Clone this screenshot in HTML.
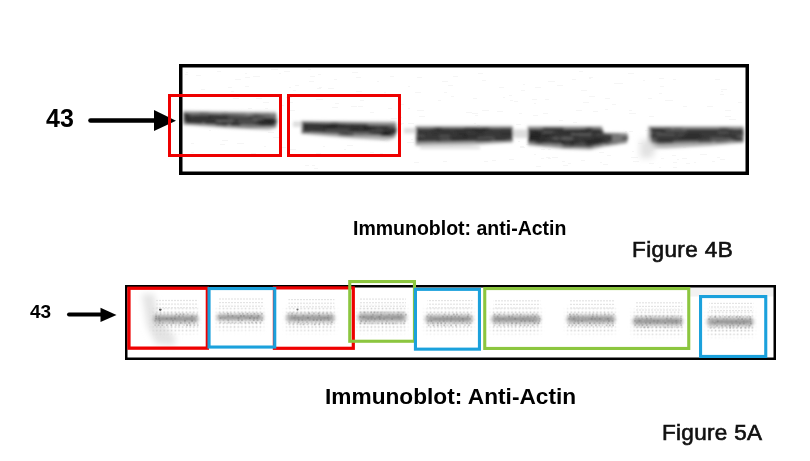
<!DOCTYPE html>
<html><head><meta charset="utf-8">
<style>
html,body{margin:0;padding:0;background:#fff;width:810px;height:461px;overflow:hidden;}
body{position:relative;font-family:"Liberation Sans",sans-serif;}
svg{position:absolute;left:0;top:0;}
.t{position:absolute;white-space:nowrap;line-height:1;color:#000;will-change:transform;}
.fg{-webkit-text-stroke:0.65px #111;}
</style></head><body>
<svg width="810" height="461" viewBox="0 0 810 461">
<defs>
<filter id="bl" x="-10%" y="-50%" width="120%" height="200%"><feGaussianBlur stdDeviation="1.5"/></filter>
<filter id="bt" x="-10%" y="-50%" width="120%" height="200%"><feGaussianBlur stdDeviation="0.6"/></filter>
<filter id="bs" x="-50%" y="-50%" width="200%" height="200%"><feGaussianBlur stdDeviation="3"/></filter>
<filter id="bb" x="-20%" y="-100%" width="140%" height="300%"><feGaussianBlur stdDeviation="1.5"/></filter>
<filter id="bd" x="-10%" y="-50%" width="120%" height="200%"><feGaussianBlur stdDeviation="0.7"/></filter>
<filter id="bm" x="-20%" y="-100%" width="140%" height="300%"><feGaussianBlur stdDeviation="2.5"/></filter>
<pattern id="dash" width="3" height="4" patternUnits="userSpaceOnUse"><rect x="0" y="0" width="2" height="4" fill="#e4e4e4"/></pattern>
<pattern id="dots" width="3.7" height="3.7" patternUnits="userSpaceOnUse"><rect x="0.6" y="0.6" width="1.6" height="1.6" fill="#c8c8c8"/></pattern>
<mask id="dm" maskUnits="userSpaceOnUse" x="0" y="0" width="810" height="461"><g filter="url(#bm)" fill="#fff">
<rect x="153.1" y="308.3" width="45" height="24.2"/>
<rect x="217" y="307.8" width="46" height="22.2"/>
<rect x="286.4" y="307.5" width="48" height="24"/>
<rect x="358" y="306.5" width="48" height="25"/>
<rect x="425.5" y="308.5" width="47" height="24"/>
<rect x="491.7" y="308.5" width="48.6" height="24.4"/>
<rect x="567" y="308.5" width="48" height="24.4"/>
<rect x="633" y="310.5" width="49.4" height="24.4"/>
<rect x="707.3" y="311" width="46" height="24.6"/>
</g></mask>
</defs>
<g fill="#eeeeee" opacity="0.55"><rect x="316" y="123" width="4" height="1"/><rect x="520" y="131" width="2" height="1"/><rect x="191" y="152" width="3" height="1"/><rect x="314" y="168" width="4" height="1"/><rect x="649" y="116" width="5" height="1"/><rect x="268" y="132" width="6" height="1"/><rect x="475" y="142" width="5" height="1"/><rect x="220" y="144" width="5" height="1"/><rect x="352" y="72" width="6" height="1"/><rect x="447" y="140" width="6" height="1"/><rect x="581" y="160" width="4" height="1"/><rect x="629" y="113" width="7" height="1"/><rect x="673" y="79" width="3" height="1"/><rect x="305" y="165" width="4" height="1"/><rect x="532" y="99" width="5" height="1"/><rect x="399" y="104" width="5" height="1"/><rect x="509" y="159" width="5" height="1"/><rect x="700" y="154" width="7" height="1"/><rect x="557" y="85" width="6" height="1"/><rect x="720" y="159" width="5" height="1"/><rect x="581" y="90" width="6" height="1"/><rect x="503" y="97" width="2" height="1"/><rect x="659" y="167" width="2" height="1"/><rect x="629" y="110" width="3" height="1"/><rect x="347" y="145" width="6" height="1"/><rect x="209" y="130" width="2" height="1"/><rect x="583" y="102" width="6" height="1"/><rect x="729" y="119" width="7" height="1"/><rect x="356" y="77" width="5" height="1"/><rect x="201" y="89" width="4" height="1"/><rect x="523" y="84" width="2" height="1"/><rect x="666" y="100" width="7" height="1"/><rect x="683" y="106" width="4" height="1"/><rect x="473" y="133" width="5" height="1"/><rect x="495" y="130" width="7" height="1"/><rect x="466" y="112" width="6" height="1"/><rect x="316" y="99" width="7" height="1"/><rect x="474" y="123" width="2" height="1"/><rect x="415" y="126" width="2" height="1"/><rect x="526" y="132" width="2" height="1"/><rect x="533" y="115" width="5" height="1"/><rect x="380" y="139" width="6" height="1"/><rect x="196" y="75" width="5" height="1"/><rect x="720" y="94" width="4" height="1"/><rect x="514" y="101" width="4" height="1"/><rect x="358" y="106" width="5" height="1"/><rect x="351" y="106" width="6" height="1"/><rect x="199" y="125" width="6" height="1"/><rect x="356" y="91" width="6" height="1"/><rect x="317" y="88" width="4" height="1"/><rect x="572" y="79" width="4" height="1"/><rect x="370" y="152" width="4" height="1"/><rect x="660" y="86" width="4" height="1"/><rect x="546" y="157" width="4" height="1"/><rect x="309" y="81" width="5" height="1"/><rect x="290" y="149" width="6" height="1"/><rect x="286" y="97" width="6" height="1"/><rect x="541" y="149" width="4" height="1"/><rect x="256" y="98" width="6" height="1"/><rect x="335" y="103" width="4" height="1"/><rect x="417" y="110" width="7" height="1"/><rect x="271" y="69" width="7" height="1"/><rect x="673" y="167" width="4" height="1"/><rect x="712" y="161" width="3" height="1"/><rect x="599" y="152" width="5" height="1"/><rect x="473" y="98" width="4" height="1"/><rect x="310" y="76" width="5" height="1"/><rect x="344" y="149" width="2" height="1"/><rect x="686" y="138" width="7" height="1"/><rect x="682" y="158" width="5" height="1"/><rect x="191" y="143" width="3" height="1"/><rect x="351" y="135" width="5" height="1"/><rect x="414" y="162" width="5" height="1"/><rect x="374" y="94" width="6" height="1"/><rect x="449" y="146" width="4" height="1"/><rect x="294" y="122" width="6" height="1"/><rect x="279" y="147" width="7" height="1"/><rect x="632" y="151" width="2" height="1"/><rect x="534" y="154" width="2" height="1"/><rect x="335" y="96" width="5" height="1"/><rect x="419" y="116" width="6" height="1"/><rect x="185" y="74" width="3" height="1"/><rect x="253" y="76" width="7" height="1"/><rect x="659" y="78" width="5" height="1"/><rect x="360" y="100" width="4" height="1"/><rect x="544" y="127" width="4" height="1"/><rect x="290" y="102" width="3" height="1"/><rect x="493" y="140" width="4" height="1"/><rect x="228" y="87" width="4" height="1"/><rect x="520" y="146" width="4" height="1"/><rect x="629" y="131" width="4" height="1"/><rect x="391" y="118" width="6" height="1"/><rect x="418" y="138" width="4" height="1"/><rect x="320" y="122" width="5" height="1"/><rect x="224" y="111" width="4" height="1"/><rect x="673" y="162" width="4" height="1"/><rect x="683" y="147" width="3" height="1"/><rect x="442" y="81" width="6" height="1"/><rect x="552" y="157" width="6" height="1"/><rect x="555" y="142" width="5" height="1"/><rect x="241" y="127" width="2" height="1"/><rect x="264" y="146" width="2" height="1"/><rect x="235" y="79" width="6" height="1"/><rect x="284" y="71" width="6" height="1"/><rect x="251" y="153" width="5" height="1"/><rect x="649" y="163" width="5" height="1"/><rect x="628" y="73" width="6" height="1"/><rect x="468" y="140" width="3" height="1"/><rect x="600" y="162" width="2" height="1"/><rect x="364" y="125" width="6" height="1"/><rect x="319" y="87" width="3" height="1"/><rect x="526" y="144" width="4" height="1"/><rect x="388" y="108" width="4" height="1"/><rect x="417" y="77" width="5" height="1"/><rect x="725" y="110" width="6" height="1"/><rect x="273" y="137" width="6" height="1"/><rect x="559" y="120" width="4" height="1"/><rect x="541" y="158" width="3" height="1"/><rect x="237" y="143" width="7" height="1"/><rect x="472" y="113" width="6" height="1"/><rect x="287" y="95" width="3" height="1"/><rect x="510" y="100" width="3" height="1"/><rect x="568" y="163" width="3" height="1"/><rect x="576" y="110" width="6" height="1"/><rect x="509" y="95" width="3" height="1"/><rect x="197" y="116" width="4" height="1"/><rect x="280" y="105" width="4" height="1"/><rect x="614" y="83" width="7" height="1"/><rect x="451" y="128" width="4" height="1"/><rect x="648" y="150" width="5" height="1"/><rect x="452" y="140" width="6" height="1"/><rect x="407" y="142" width="7" height="1"/><rect x="444" y="92" width="3" height="1"/><rect x="583" y="136" width="7" height="1"/><rect x="659" y="93" width="3" height="1"/><rect x="328" y="88" width="6" height="1"/><rect x="661" y="158" width="3" height="1"/><rect x="665" y="100" width="4" height="1"/><rect x="589" y="78" width="2" height="1"/><rect x="648" y="98" width="4" height="1"/><rect x="507" y="136" width="2" height="1"/><rect x="370" y="112" width="4" height="1"/><rect x="301" y="127" width="7" height="1"/><rect x="401" y="123" width="3" height="1"/><rect x="337" y="135" width="3" height="1"/><rect x="677" y="159" width="2" height="1"/><rect x="707" y="106" width="6" height="1"/><rect x="605" y="98" width="5" height="1"/><rect x="548" y="149" width="3" height="1"/><rect x="603" y="164" width="5" height="1"/><rect x="482" y="80" width="4" height="1"/><rect x="380" y="140" width="5" height="1"/><rect x="499" y="87" width="5" height="1"/><rect x="535" y="87" width="6" height="1"/><rect x="548" y="81" width="7" height="1"/><rect x="263" y="102" width="6" height="1"/><rect x="516" y="124" width="5" height="1"/><rect x="438" y="100" width="3" height="1"/><rect x="222" y="140" width="6" height="1"/><rect x="486" y="142" width="4" height="1"/><rect x="332" y="107" width="6" height="1"/><rect x="207" y="119" width="3" height="1"/><rect x="612" y="104" width="4" height="1"/><rect x="408" y="123" width="6" height="1"/><rect x="380" y="153" width="3" height="1"/><rect x="334" y="79" width="3" height="1"/><rect x="617" y="141" width="3" height="1"/><rect x="289" y="110" width="6" height="1"/><rect x="638" y="143" width="5" height="1"/><rect x="265" y="108" width="3" height="1"/><rect x="477" y="125" width="3" height="1"/><rect x="323" y="146" width="2" height="1"/><rect x="631" y="157" width="7" height="1"/><rect x="397" y="124" width="5" height="1"/><rect x="536" y="166" width="5" height="1"/><rect x="350" y="154" width="4" height="1"/><rect x="518" y="141" width="2" height="1"/><rect x="612" y="135" width="4" height="1"/><rect x="475" y="115" width="3" height="1"/><rect x="478" y="73" width="5" height="1"/><rect x="543" y="113" width="5" height="1"/><rect x="717" y="157" width="3" height="1"/><rect x="625" y="131" width="2" height="1"/><rect x="384" y="92" width="2" height="1"/><rect x="484" y="161" width="4" height="1"/><rect x="668" y="138" width="3" height="1"/><rect x="661" y="129" width="7" height="1"/><rect x="582" y="142" width="4" height="1"/><rect x="633" y="161" width="6" height="1"/><rect x="427" y="144" width="4" height="1"/><rect x="245" y="73" width="2" height="1"/><rect x="295" y="85" width="4" height="1"/><rect x="573" y="122" width="4" height="1"/><rect x="545" y="99" width="4" height="1"/><rect x="605" y="109" width="3" height="1"/><rect x="684" y="140" width="4" height="1"/><rect x="390" y="121" width="5" height="1"/><rect x="308" y="69" width="3" height="1"/><rect x="619" y="83" width="4" height="1"/><rect x="293" y="90" width="3" height="1"/><rect x="408" y="86" width="2" height="1"/><rect x="245" y="86" width="4" height="1"/><rect x="217" y="71" width="4" height="1"/><rect x="411" y="139" width="2" height="1"/><rect x="408" y="108" width="2" height="1"/><rect x="721" y="91" width="2" height="1"/><rect x="448" y="85" width="5" height="1"/><rect x="377" y="81" width="2" height="1"/><rect x="589" y="96" width="6" height="1"/><rect x="443" y="161" width="4" height="1"/><rect x="323" y="95" width="6" height="1"/><rect x="534" y="103" width="2" height="1"/><rect x="563" y="165" width="5" height="1"/><rect x="186" y="72" width="2" height="1"/><rect x="279" y="73" width="2" height="1"/><rect x="548" y="158" width="3" height="1"/><rect x="725" y="116" width="6" height="1"/><rect x="694" y="162" width="2" height="1"/><rect x="353" y="129" width="7" height="1"/><rect x="233" y="98" width="6" height="1"/><rect x="248" y="108" width="4" height="1"/><rect x="562" y="161" width="3" height="1"/><rect x="595" y="142" width="6" height="1"/><rect x="492" y="160" width="4" height="1"/><rect x="415" y="92" width="6" height="1"/><rect x="451" y="96" width="3" height="1"/><rect x="585" y="129" width="6" height="1"/><rect x="399" y="117" width="3" height="1"/><rect x="579" y="71" width="4" height="1"/><rect x="606" y="136" width="2" height="1"/><rect x="316" y="153" width="5" height="1"/><rect x="672" y="155" width="4" height="1"/><rect x="683" y="142" width="4" height="1"/><rect x="390" y="76" width="4" height="1"/><rect x="715" y="79" width="5" height="1"/><rect x="245" y="77" width="5" height="1"/><rect x="318" y="74" width="3" height="1"/><rect x="542" y="127" width="2" height="1"/><rect x="312" y="165" width="3" height="1"/><rect x="497" y="111" width="6" height="1"/><rect x="520" y="147" width="5" height="1"/><rect x="289" y="87" width="2" height="1"/><rect x="643" y="80" width="2" height="1"/><rect x="721" y="89" width="6" height="1"/><rect x="232" y="115" width="3" height="1"/><rect x="645" y="130" width="5" height="1"/><rect x="607" y="155" width="4" height="1"/><rect x="519" y="113" width="3" height="1"/><rect x="648" y="128" width="6" height="1"/><rect x="299" y="122" width="4" height="1"/><rect x="589" y="77" width="4" height="1"/><rect x="453" y="76" width="5" height="1"/><rect x="593" y="111" width="5" height="1"/><rect x="521" y="90" width="4" height="1"/><rect x="738" y="102" width="4" height="1"/><rect x="231" y="91" width="3" height="1"/><rect x="702" y="141" width="6" height="1"/><rect x="733" y="130" width="7" height="1"/><rect x="482" y="110" width="7" height="1"/><rect x="686" y="163" width="4" height="1"/></g>
<defs>
<clipPath id="cp0"><polygon points="183.5,112 275.5,114 277.2,121 275.5,127 250,128 183.5,123.5" fill="#000"/></clipPath>
<clipPath id="cp1"><polygon points="302,121.8 395.5,123.5 397,130.5 394.5,136.5 350,136 302,132.5" fill="#000"/></clipPath>
<clipPath id="cp2"><polygon points="416,127 512.5,127 513,134 512.5,141.5 416,143.5" fill="#000"/></clipPath>
<clipPath id="cp3"><polygon points="528,127.3 601,127.3 604,133 627,133.5 628,138 626.5,142 604,145 590,148 564,147.5 528,143.5" fill="#000"/></clipPath>
<clipPath id="cp4"><polygon points="650,127.5 743,127.5 743.8,134 743,141.5 650,145" fill="#000"/></clipPath>
</defs>
<g filter="url(#bl)">
<polygon points="183,110.8 276,111.8 277.8,120 276.5,128 269,130 233,128.5 183,125" fill="#b8b8b8"/>
<polygon points="183.5,112 275.5,114 277.2,121 275.5,127 250,128 183.5,123.5" fill="#777777"/>
<polygon points="184.5,113.2 230,115 274,117.5 276.3,121.5 273.5,125.5 230,124 184.5,121.8" fill="#383838"/>
<g clip-path="url(#cp0)">
<rect x="187.9" y="112.0" width="7.2" height="2" fill="rgb(163,163,163)" opacity="0.32"/>
<rect x="199.6" y="112.0" width="9.4" height="2" fill="rgb(23,23,23)" opacity="0.37"/>
<rect x="222.2" y="112.0" width="8.0" height="2" fill="rgb(30,30,30)" opacity="0.55"/>
<rect x="230.5" y="112.0" width="15.4" height="2" fill="rgb(17,17,17)" opacity="0.37"/>
<rect x="250.2" y="112.0" width="10.6" height="2" fill="rgb(13,13,13)" opacity="0.55"/>
<rect x="263.6" y="112.0" width="16.9" height="2" fill="rgb(28,28,28)" opacity="0.57"/>
<rect x="180.8" y="114.0" width="7.0" height="2" fill="rgb(16,16,16)" opacity="0.52"/>
<rect x="190.4" y="114.0" width="18.4" height="2" fill="rgb(199,199,199)" opacity="0.29"/>
<rect x="253.4" y="114.0" width="17.7" height="2" fill="rgb(12,12,12)" opacity="0.39"/>
<rect x="273.2" y="114.0" width="18.1" height="2" fill="rgb(25,25,25)" opacity="0.50"/>
<rect x="192.9" y="116.0" width="19.1" height="2" fill="rgb(21,21,21)" opacity="0.56"/>
<rect x="228.2" y="116.0" width="21.1" height="2" fill="rgb(182,182,182)" opacity="0.21"/>
<rect x="263.9" y="116.0" width="16.9" height="2" fill="rgb(185,185,185)" opacity="0.28"/>
<rect x="177.6" y="118.0" width="13.4" height="2" fill="rgb(13,13,13)" opacity="0.52"/>
<rect x="215.1" y="118.0" width="13.9" height="2" fill="rgb(22,22,22)" opacity="0.54"/>
<rect x="252.5" y="118.0" width="10.5" height="2" fill="rgb(162,162,162)" opacity="0.34"/>
<rect x="264.9" y="118.0" width="9.7" height="2" fill="rgb(14,14,14)" opacity="0.43"/>
<rect x="179.1" y="120.0" width="6.1" height="2" fill="rgb(163,163,163)" opacity="0.32"/>
<rect x="215.9" y="120.0" width="17.8" height="2" fill="rgb(195,195,195)" opacity="0.36"/>
<rect x="238.2" y="120.0" width="18.8" height="2" fill="rgb(165,165,165)" opacity="0.28"/>
<rect x="259.3" y="120.0" width="12.4" height="2" fill="rgb(16,16,16)" opacity="0.50"/>
<rect x="272.3" y="120.0" width="15.6" height="2" fill="rgb(28,28,28)" opacity="0.40"/>
<rect x="186.1" y="122.0" width="15.8" height="2" fill="rgb(18,18,18)" opacity="0.68"/>
<rect x="204.9" y="122.0" width="13.6" height="2" fill="rgb(25,25,25)" opacity="0.70"/>
<rect x="220.8" y="122.0" width="13.7" height="2" fill="rgb(13,13,13)" opacity="0.61"/>
<rect x="251.9" y="122.0" width="14.3" height="2" fill="rgb(40,40,40)" opacity="0.53"/>
<rect x="266.9" y="122.0" width="14.7" height="2" fill="rgb(26,26,26)" opacity="0.45"/>
<rect x="178.0" y="124.0" width="19.5" height="2" fill="rgb(198,198,198)" opacity="0.23"/>
<rect x="216.0" y="124.0" width="11.3" height="2" fill="rgb(35,35,35)" opacity="0.63"/>
<rect x="231.0" y="124.0" width="9.1" height="2" fill="rgb(22,22,22)" opacity="0.61"/>
<rect x="241.3" y="124.0" width="14.3" height="2" fill="rgb(141,141,141)" opacity="0.40"/>
<rect x="259.5" y="124.0" width="13.6" height="2" fill="rgb(29,29,29)" opacity="0.68"/>
<rect x="183.2" y="126.0" width="11.8" height="2" fill="rgb(17,17,17)" opacity="0.51"/>
<rect x="210.5" y="126.0" width="15.8" height="2" fill="rgb(39,39,39)" opacity="0.58"/>
<rect x="258.2" y="126.0" width="18.0" height="2" fill="rgb(151,151,151)" opacity="0.29"/>
</g>
<polygon points="293,121.5 303,121.5 303,127 293,127" fill="#dedede"/>
<polygon points="301,120.8 396,121.5 397.5,130 395,138 388,140.5 353,138.5 301,134" fill="#b8b8b8"/>
<polygon points="302,121.8 395.5,123.5 397,130.5 394.5,136.5 350,136 302,132.5" fill="#777777"/>
<polygon points="303,122.5 350,124 394,126 396.3,130.5 393.5,135 350,133.5 303,131.2" fill="#383838"/>
<g clip-path="url(#cp1)">
<rect x="331.1" y="121.8" width="7.4" height="2" fill="rgb(14,14,14)" opacity="0.36"/>
<rect x="384.2" y="121.8" width="8.5" height="2" fill="rgb(141,141,141)" opacity="0.20"/>
<rect x="327.3" y="123.8" width="19.2" height="2" fill="rgb(18,18,18)" opacity="0.42"/>
<rect x="349.0" y="123.8" width="18.2" height="2" fill="rgb(27,27,27)" opacity="0.50"/>
<rect x="367.9" y="123.8" width="20.6" height="2" fill="rgb(169,169,169)" opacity="0.33"/>
<rect x="301.3" y="125.8" width="8.1" height="2" fill="rgb(26,26,26)" opacity="0.36"/>
<rect x="311.6" y="125.8" width="8.9" height="2" fill="rgb(35,35,35)" opacity="0.40"/>
<rect x="321.2" y="125.8" width="15.9" height="2" fill="rgb(11,11,11)" opacity="0.46"/>
<rect x="362.3" y="125.8" width="10.0" height="2" fill="rgb(34,34,34)" opacity="0.38"/>
<rect x="381.0" y="125.8" width="7.0" height="2" fill="rgb(26,26,26)" opacity="0.56"/>
<rect x="389.0" y="125.8" width="10.4" height="2" fill="rgb(191,191,191)" opacity="0.30"/>
<rect x="351.5" y="127.8" width="8.2" height="2" fill="rgb(24,24,24)" opacity="0.46"/>
<rect x="363.0" y="127.8" width="12.9" height="2" fill="rgb(19,19,19)" opacity="0.62"/>
<rect x="388.8" y="127.8" width="16.6" height="2" fill="rgb(38,38,38)" opacity="0.40"/>
<rect x="326.2" y="129.8" width="21.9" height="2" fill="rgb(166,166,166)" opacity="0.24"/>
<rect x="349.7" y="129.8" width="17.6" height="2" fill="rgb(27,27,27)" opacity="0.51"/>
<rect x="370.7" y="129.8" width="12.1" height="2" fill="rgb(158,158,158)" opacity="0.30"/>
<rect x="301.8" y="131.8" width="7.7" height="2" fill="rgb(11,11,11)" opacity="0.67"/>
<rect x="348.1" y="131.8" width="21.1" height="2" fill="rgb(174,174,174)" opacity="0.38"/>
<rect x="372.1" y="131.8" width="17.2" height="2" fill="rgb(11,11,11)" opacity="0.63"/>
<rect x="390.2" y="131.8" width="20.3" height="2" fill="rgb(10,10,10)" opacity="0.57"/>
<rect x="296.5" y="133.8" width="19.7" height="2" fill="rgb(37,37,37)" opacity="0.39"/>
<rect x="316.3" y="133.8" width="21.9" height="2" fill="rgb(198,198,198)" opacity="0.25"/>
<rect x="338.8" y="133.8" width="14.4" height="2" fill="rgb(13,13,13)" opacity="0.69"/>
<rect x="363.5" y="133.8" width="16.1" height="2" fill="rgb(153,153,153)" opacity="0.26"/>
<rect x="382.0" y="133.8" width="8.8" height="2" fill="rgb(10,10,10)" opacity="0.70"/>
<rect x="391.0" y="133.8" width="6.3" height="2" fill="rgb(152,152,152)" opacity="0.30"/>
<rect x="315.2" y="135.8" width="16.5" height="2" fill="rgb(196,196,196)" opacity="0.28"/>
<rect x="380.0" y="135.8" width="12.5" height="2" fill="rgb(11,11,11)" opacity="0.64"/>
</g>
<polygon points="404,128 416,128 416,133.5 404,133.5" fill="#dedede"/>
<polygon points="512,129.5 523,130 523,137 512,137" fill="#dedede"/>
<polygon points="420,146.5 480,146.5 480,149 420,149" fill="#dedede"/>
<polygon points="415.5,125.8 512.5,125.8 513.3,134 512.5,142.5 470,145.5 415.5,146" fill="#b8b8b8"/>
<polygon points="416,127 512.5,127 513,134 512.5,141.5 416,143.5" fill="#777777"/>
<polygon points="417,128.3 511.5,128.3 512.3,134 511.5,140.2 417,141.7" fill="#383838"/>
<g clip-path="url(#cp2)">
<rect x="419.5" y="127.0" width="12.1" height="2" fill="rgb(158,158,158)" opacity="0.32"/>
<rect x="435.0" y="127.0" width="6.7" height="2" fill="rgb(18,18,18)" opacity="0.51"/>
<rect x="464.5" y="127.0" width="14.8" height="2" fill="rgb(40,40,40)" opacity="0.66"/>
<rect x="480.3" y="127.0" width="8.9" height="2" fill="rgb(12,12,12)" opacity="0.52"/>
<rect x="491.7" y="127.0" width="9.2" height="2" fill="rgb(140,140,140)" opacity="0.22"/>
<rect x="430.5" y="129.0" width="19.7" height="2" fill="rgb(38,38,38)" opacity="0.60"/>
<rect x="454.6" y="129.0" width="12.2" height="2" fill="rgb(25,25,25)" opacity="0.40"/>
<rect x="470.4" y="129.0" width="16.3" height="2" fill="rgb(36,36,36)" opacity="0.60"/>
<rect x="475.9" y="131.0" width="7.4" height="2" fill="rgb(30,30,30)" opacity="0.48"/>
<rect x="414.1" y="133.0" width="13.8" height="2" fill="rgb(35,35,35)" opacity="0.37"/>
<rect x="432.6" y="133.0" width="20.4" height="2" fill="rgb(26,26,26)" opacity="0.37"/>
<rect x="456.6" y="133.0" width="10.0" height="2" fill="rgb(18,18,18)" opacity="0.43"/>
<rect x="500.7" y="133.0" width="10.6" height="2" fill="rgb(30,30,30)" opacity="0.57"/>
<rect x="511.7" y="133.0" width="8.4" height="2" fill="rgb(33,33,33)" opacity="0.59"/>
<rect x="410.8" y="135.0" width="13.7" height="2" fill="rgb(183,183,183)" opacity="0.22"/>
<rect x="439.4" y="135.0" width="10.6" height="2" fill="rgb(189,189,189)" opacity="0.22"/>
<rect x="463.7" y="135.0" width="21.0" height="2" fill="rgb(24,24,24)" opacity="0.38"/>
<rect x="415.6" y="137.0" width="7.2" height="2" fill="rgb(33,33,33)" opacity="0.53"/>
<rect x="449.8" y="137.0" width="17.3" height="2" fill="rgb(38,38,38)" opacity="0.66"/>
<rect x="477.6" y="137.0" width="16.9" height="2" fill="rgb(186,186,186)" opacity="0.23"/>
<rect x="440.4" y="139.0" width="10.6" height="2" fill="rgb(165,165,165)" opacity="0.28"/>
<rect x="480.7" y="139.0" width="10.5" height="2" fill="rgb(31,31,31)" opacity="0.45"/>
<rect x="495.8" y="139.0" width="10.0" height="2" fill="rgb(26,26,26)" opacity="0.46"/>
<rect x="509.7" y="139.0" width="18.6" height="2" fill="rgb(141,141,141)" opacity="0.36"/>
<rect x="415.5" y="141.0" width="21.1" height="2" fill="rgb(186,186,186)" opacity="0.22"/>
<rect x="475.8" y="141.0" width="14.8" height="2" fill="rgb(23,23,23)" opacity="0.47"/>
<rect x="411.8" y="143.0" width="14.9" height="2" fill="rgb(150,150,150)" opacity="0.33"/>
<rect x="441.1" y="143.0" width="14.8" height="2" fill="rgb(161,161,161)" opacity="0.40"/>
<rect x="458.2" y="143.0" width="8.2" height="2" fill="rgb(12,12,12)" opacity="0.41"/>
<rect x="469.2" y="143.0" width="11.1" height="2" fill="rgb(191,191,191)" opacity="0.31"/>
<rect x="484.7" y="143.0" width="18.0" height="2" fill="rgb(166,166,166)" opacity="0.35"/>
</g>
<polygon points="515,129.5 528,129.5 528,138 515,138" fill="#dedede"/>
<polygon points="527.5,126 602,126 604,132.5 627.5,133 628.5,138 627,143.5 604,147 590,150 564,149 528,145.5" fill="#b8b8b8"/>
<polygon points="528,127.3 601,127.3 604,133 627,133.5 628,138 626.5,142 604,145 590,148 564,147.5 528,143.5" fill="#777777"/>
<polygon points="528.8,129 600,129 603,134 612,135 612,141.5 603,143 590,146.5 564,146.5 560,142.4 528.8,142.4" fill="#383838"/>
<g clip-path="url(#cp3)">
<rect x="525.0" y="127.3" width="15.2" height="2" fill="rgb(183,183,183)" opacity="0.30"/>
<rect x="543.3" y="127.3" width="19.8" height="2" fill="rgb(18,18,18)" opacity="0.66"/>
<rect x="565.1" y="127.3" width="16.3" height="2" fill="rgb(159,159,159)" opacity="0.37"/>
<rect x="585.8" y="127.3" width="6.3" height="2" fill="rgb(32,32,32)" opacity="0.62"/>
<rect x="596.1" y="127.3" width="21.5" height="2" fill="rgb(144,144,144)" opacity="0.28"/>
<rect x="527.8" y="129.3" width="10.0" height="2" fill="rgb(14,14,14)" opacity="0.40"/>
<rect x="567.6" y="129.3" width="20.3" height="2" fill="rgb(34,34,34)" opacity="0.36"/>
<rect x="601.6" y="129.3" width="16.3" height="2" fill="rgb(14,14,14)" opacity="0.57"/>
<rect x="533.4" y="131.3" width="9.1" height="2" fill="rgb(35,35,35)" opacity="0.56"/>
<rect x="542.5" y="131.3" width="10.8" height="2" fill="rgb(160,160,160)" opacity="0.33"/>
<rect x="557.8" y="131.3" width="13.6" height="2" fill="rgb(17,17,17)" opacity="0.36"/>
<rect x="573.4" y="131.3" width="16.4" height="2" fill="rgb(16,16,16)" opacity="0.52"/>
<rect x="593.2" y="131.3" width="12.7" height="2" fill="rgb(31,31,31)" opacity="0.50"/>
<rect x="621.7" y="131.3" width="17.5" height="2" fill="rgb(165,165,165)" opacity="0.24"/>
<rect x="526.4" y="133.3" width="14.1" height="2" fill="rgb(16,16,16)" opacity="0.46"/>
<rect x="544.6" y="133.3" width="9.7" height="2" fill="rgb(34,34,34)" opacity="0.66"/>
<rect x="570.8" y="133.3" width="20.3" height="2" fill="rgb(198,198,198)" opacity="0.33"/>
<rect x="595.9" y="133.3" width="8.3" height="2" fill="rgb(153,153,153)" opacity="0.20"/>
<rect x="619.9" y="133.3" width="8.9" height="2" fill="rgb(185,185,185)" opacity="0.38"/>
<rect x="528.0" y="135.3" width="20.9" height="2" fill="rgb(15,15,15)" opacity="0.58"/>
<rect x="551.5" y="135.3" width="13.5" height="2" fill="rgb(33,33,33)" opacity="0.48"/>
<rect x="566.9" y="135.3" width="11.3" height="2" fill="rgb(10,10,10)" opacity="0.38"/>
<rect x="522.5" y="137.3" width="17.3" height="2" fill="rgb(27,27,27)" opacity="0.67"/>
<rect x="552.6" y="137.3" width="6.5" height="2" fill="rgb(191,191,191)" opacity="0.33"/>
<rect x="561.1" y="137.3" width="12.0" height="2" fill="rgb(191,191,191)" opacity="0.38"/>
<rect x="592.4" y="137.3" width="11.4" height="2" fill="rgb(40,40,40)" opacity="0.68"/>
<rect x="621.9" y="137.3" width="20.8" height="2" fill="rgb(33,33,33)" opacity="0.61"/>
<rect x="525.8" y="139.3" width="21.1" height="2" fill="rgb(17,17,17)" opacity="0.39"/>
<rect x="582.6" y="139.3" width="19.0" height="2" fill="rgb(25,25,25)" opacity="0.41"/>
<rect x="524.0" y="141.3" width="11.1" height="2" fill="rgb(190,190,190)" opacity="0.32"/>
<rect x="537.6" y="141.3" width="12.3" height="2" fill="rgb(23,23,23)" opacity="0.37"/>
<rect x="550.1" y="141.3" width="14.8" height="2" fill="rgb(23,23,23)" opacity="0.66"/>
<rect x="569.9" y="141.3" width="10.2" height="2" fill="rgb(13,13,13)" opacity="0.50"/>
<rect x="585.0" y="141.3" width="21.6" height="2" fill="rgb(14,14,14)" opacity="0.50"/>
<rect x="522.7" y="143.3" width="19.5" height="2" fill="rgb(28,28,28)" opacity="0.44"/>
<rect x="543.5" y="143.3" width="10.2" height="2" fill="rgb(151,151,151)" opacity="0.25"/>
<rect x="574.5" y="143.3" width="11.2" height="2" fill="rgb(155,155,155)" opacity="0.30"/>
<rect x="605.8" y="143.3" width="21.9" height="2" fill="rgb(25,25,25)" opacity="0.66"/>
<rect x="536.7" y="145.3" width="9.7" height="2" fill="rgb(29,29,29)" opacity="0.69"/>
<rect x="549.3" y="145.3" width="20.9" height="2" fill="rgb(195,195,195)" opacity="0.24"/>
<rect x="597.7" y="145.3" width="17.4" height="2" fill="rgb(11,11,11)" opacity="0.48"/>
<rect x="615.8" y="145.3" width="9.3" height="2" fill="rgb(29,29,29)" opacity="0.61"/>
<rect x="526.9" y="147.3" width="19.1" height="2" fill="rgb(163,163,163)" opacity="0.24"/>
<rect x="556.8" y="147.3" width="14.8" height="2" fill="rgb(13,13,13)" opacity="0.63"/>
<rect x="574.9" y="147.3" width="8.5" height="2" fill="rgb(181,181,181)" opacity="0.23"/>
<rect x="586.8" y="147.3" width="12.6" height="2" fill="rgb(19,19,19)" opacity="0.50"/>
<rect x="617.6" y="147.3" width="12.6" height="2" fill="rgb(34,34,34)" opacity="0.70"/>
</g>
<polygon points="648,126 743.5,126 744.2,134 743.5,143 709,146 666,148.5 647,148.5" fill="#b8b8b8"/>
<polygon points="650,127.5 743,127.5 743.8,134 743,141.5 650,145" fill="#777777"/>
<polygon points="652,129.1 742.5,129.1 743.3,134 742.5,139.8 651,141.7" fill="#383838"/>
<g clip-path="url(#cp4)">
<rect x="645.2" y="127.5" width="17.6" height="2" fill="rgb(10,10,10)" opacity="0.50"/>
<rect x="663.6" y="127.5" width="7.8" height="2" fill="rgb(28,28,28)" opacity="0.66"/>
<rect x="673.7" y="127.5" width="8.6" height="2" fill="rgb(27,27,27)" opacity="0.40"/>
<rect x="719.6" y="127.5" width="8.7" height="2" fill="rgb(15,15,15)" opacity="0.53"/>
<rect x="732.9" y="127.5" width="7.7" height="2" fill="rgb(191,191,191)" opacity="0.36"/>
<rect x="645.8" y="129.5" width="19.4" height="2" fill="rgb(39,39,39)" opacity="0.52"/>
<rect x="665.5" y="129.5" width="20.8" height="2" fill="rgb(197,197,197)" opacity="0.34"/>
<rect x="729.7" y="129.5" width="15.8" height="2" fill="rgb(25,25,25)" opacity="0.41"/>
<rect x="646.4" y="131.5" width="14.3" height="2" fill="rgb(147,147,147)" opacity="0.23"/>
<rect x="665.5" y="131.5" width="19.1" height="2" fill="rgb(38,38,38)" opacity="0.55"/>
<rect x="717.7" y="131.5" width="10.9" height="2" fill="rgb(177,177,177)" opacity="0.25"/>
<rect x="730.5" y="131.5" width="11.9" height="2" fill="rgb(151,151,151)" opacity="0.20"/>
<rect x="656.7" y="133.5" width="18.5" height="2" fill="rgb(151,151,151)" opacity="0.36"/>
<rect x="677.2" y="133.5" width="7.1" height="2" fill="rgb(163,163,163)" opacity="0.22"/>
<rect x="686.5" y="133.5" width="14.2" height="2" fill="rgb(30,30,30)" opacity="0.40"/>
<rect x="648.7" y="135.5" width="6.4" height="2" fill="rgb(29,29,29)" opacity="0.61"/>
<rect x="682.2" y="135.5" width="20.7" height="2" fill="rgb(35,35,35)" opacity="0.60"/>
<rect x="723.3" y="135.5" width="10.0" height="2" fill="rgb(29,29,29)" opacity="0.45"/>
<rect x="737.4" y="135.5" width="8.3" height="2" fill="rgb(198,198,198)" opacity="0.30"/>
<rect x="647.7" y="137.5" width="9.8" height="2" fill="rgb(152,152,152)" opacity="0.24"/>
<rect x="679.3" y="137.5" width="20.3" height="2" fill="rgb(35,35,35)" opacity="0.44"/>
<rect x="710.2" y="137.5" width="21.5" height="2" fill="rgb(173,173,173)" opacity="0.32"/>
<rect x="743.8" y="137.5" width="16.1" height="2" fill="rgb(191,191,191)" opacity="0.27"/>
<rect x="646.2" y="139.5" width="8.3" height="2" fill="rgb(12,12,12)" opacity="0.50"/>
<rect x="655.4" y="139.5" width="17.9" height="2" fill="rgb(36,36,36)" opacity="0.53"/>
<rect x="734.9" y="139.5" width="9.5" height="2" fill="rgb(30,30,30)" opacity="0.50"/>
<rect x="649.4" y="141.5" width="8.1" height="2" fill="rgb(30,30,30)" opacity="0.37"/>
<rect x="657.8" y="141.5" width="15.1" height="2" fill="rgb(26,26,26)" opacity="0.48"/>
<rect x="698.6" y="141.5" width="13.6" height="2" fill="rgb(39,39,39)" opacity="0.63"/>
<rect x="715.7" y="141.5" width="13.2" height="2" fill="rgb(14,14,14)" opacity="0.65"/>
<rect x="732.8" y="141.5" width="12.4" height="2" fill="rgb(10,10,10)" opacity="0.37"/>
<rect x="664.9" y="143.5" width="15.6" height="2" fill="rgb(171,171,171)" opacity="0.25"/>
<rect x="685.0" y="143.5" width="6.7" height="2" fill="rgb(165,165,165)" opacity="0.24"/>
<rect x="692.5" y="143.5" width="20.6" height="2" fill="rgb(29,29,29)" opacity="0.54"/>
<rect x="717.8" y="143.5" width="8.3" height="2" fill="rgb(29,29,29)" opacity="0.57"/>
<rect x="742.0" y="143.5" width="14.1" height="2" fill="rgb(30,30,30)" opacity="0.37"/>
</g>
</g>
<g filter="url(#bs)" fill="#e2e2e2"><polygon points="640,140 652,140 656,148 652,158 640,158"/></g>
<rect x="180.75" y="65.75" width="566.5" height="107.5" fill="none" stroke="#000" stroke-width="3.5"/>
<line x1="90.5" y1="120.5" x2="156" y2="120.5" stroke="#000" stroke-width="4.6" stroke-linecap="round"/>
<polygon points="154,110 176,120.8 154,131" fill="#000"/>
<rect x="169.5" y="95.5" width="111" height="60" fill="none" stroke="#ee0000" stroke-width="3"/>
<rect x="288.5" y="95.5" width="111" height="60" fill="none" stroke="#ee0000" stroke-width="3"/>

<rect x="690" y="287.5" width="84" height="9" fill="#f2f2f2"/>
<g filter="url(#bs)" fill="#e4e4e4"><polygon points="142,294 154,294 158,318 176,338 174,346 156,344 147,326"/></g>
<circle cx="160.3" cy="309.6" r="1.2" fill="#333"/><circle cx="297.5" cy="309.6" r="1" fill="#555"/>
<rect x="128" y="288" width="645" height="68" fill="url(#dots)" mask="url(#dm)"/>
<g filter="url(#bb)">
<rect x="152.1" y="314.3" width="47" height="9.2" rx="4.6" ry="4.6" fill="#c6c6c6"/>
<rect x="155.1" y="316.83" width="41" height="4.14" rx="2.07" ry="2.07" fill="#959595"/>
<rect x="216" y="313.8" width="48" height="7.2" rx="3.6" ry="3.6" fill="#c6c6c6"/>
<rect x="219" y="315.78" width="42" height="3.24" rx="1.62" ry="1.62" fill="#959595"/>
<rect x="285.4" y="313.5" width="50" height="9" rx="4.5" ry="4.5" fill="#c6c6c6"/>
<rect x="288.4" y="315.975" width="44" height="4.05" rx="2.025" ry="2.025" fill="#959595"/>
<rect x="357" y="312.5" width="50" height="10" rx="5" ry="5" fill="#c6c6c6"/>
<rect x="360" y="315.25" width="44" height="4.5" rx="2.25" ry="2.25" fill="#959595"/>
<rect x="424.5" y="314.5" width="49" height="9" rx="4.5" ry="4.5" fill="#c6c6c6"/>
<rect x="427.5" y="316.975" width="43" height="4.05" rx="2.025" ry="2.025" fill="#959595"/>
<rect x="490.7" y="314.5" width="50.6" height="9.4" rx="4.7" ry="4.7" fill="#c6c6c6"/>
<rect x="493.7" y="317.085" width="44.6" height="4.23" rx="2.115" ry="2.115" fill="#959595"/>
<rect x="566" y="314.5" width="50" height="9.4" rx="4.7" ry="4.7" fill="#c6c6c6"/>
<rect x="569" y="317.085" width="44" height="4.23" rx="2.115" ry="2.115" fill="#959595"/>
<rect x="632" y="316.5" width="51.4" height="9.4" rx="4.7" ry="4.7" fill="#c6c6c6"/>
<rect x="635" y="319.085" width="45.4" height="4.23" rx="2.115" ry="2.115" fill="#959595"/>
<rect x="706.3" y="317" width="48" height="9.6" rx="4.8" ry="4.8" fill="#c6c6c6"/>
<rect x="709.3" y="319.64" width="42" height="4.32" rx="2.16" ry="2.16" fill="#959595"/>
</g>
<g filter="url(#bd)">
<rect x="155.0" y="313.3" width="1.8" height="1.8" fill="rgb(181,181,181)" opacity="0.4"/>
<rect x="159.7" y="313.3" width="1.8" height="1.8" fill="rgb(169,169,169)" opacity="0.4"/>
<rect x="163.6" y="313.3" width="1.8" height="1.8" fill="rgb(185,185,185)" opacity="0.4"/>
<rect x="167.0" y="313.3" width="1.8" height="1.8" fill="rgb(175,175,175)" opacity="0.4"/>
<rect x="171.0" y="313.3" width="1.8" height="1.8" fill="rgb(188,188,188)" opacity="0.4"/>
<rect x="175.5" y="313.3" width="1.8" height="1.8" fill="rgb(122,122,122)" opacity="0.4"/>
<rect x="179.4" y="313.3" width="1.8" height="1.8" fill="rgb(128,128,128)" opacity="0.4"/>
<rect x="182.6" y="313.3" width="1.8" height="1.8" fill="rgb(115,115,115)" opacity="0.4"/>
<rect x="186.8" y="313.3" width="1.8" height="1.8" fill="rgb(160,160,160)" opacity="0.4"/>
<rect x="191.7" y="313.3" width="1.8" height="1.8" fill="rgb(188,188,188)" opacity="0.4"/>
<rect x="196.0" y="313.3" width="1.8" height="1.8" fill="rgb(189,189,189)" opacity="0.4"/>
<rect x="155.2" y="315.5" width="1.8" height="1.8" fill="rgb(117,117,117)" opacity="0.4"/>
<rect x="158.2" y="315.5" width="1.8" height="1.8" fill="rgb(140,140,140)" opacity="0.4"/>
<rect x="162.4" y="315.5" width="1.8" height="1.8" fill="rgb(169,169,169)" opacity="0.4"/>
<rect x="166.1" y="315.5" width="1.8" height="1.8" fill="rgb(185,185,185)" opacity="0.4"/>
<rect x="170.8" y="315.5" width="1.8" height="1.8" fill="rgb(176,176,176)" opacity="0.4"/>
<rect x="174.2" y="315.5" width="1.8" height="1.8" fill="rgb(147,147,147)" opacity="0.4"/>
<rect x="178.2" y="315.5" width="1.8" height="1.8" fill="rgb(120,120,120)" opacity="0.4"/>
<rect x="182.1" y="315.5" width="1.8" height="1.8" fill="rgb(145,145,145)" opacity="0.4"/>
<rect x="186.0" y="315.5" width="1.8" height="1.8" fill="rgb(180,180,180)" opacity="0.4"/>
<rect x="191.0" y="315.5" width="1.8" height="1.8" fill="rgb(120,120,120)" opacity="0.4"/>
<rect x="195.4" y="315.5" width="1.8" height="1.8" fill="rgb(150,150,150)" opacity="0.4"/>
<rect x="155.1" y="317.7" width="1.8" height="1.8" fill="rgb(113,113,113)" opacity="0.4"/>
<rect x="158.3" y="317.7" width="1.8" height="1.8" fill="rgb(123,123,123)" opacity="0.4"/>
<rect x="162.1" y="317.7" width="1.8" height="1.8" fill="rgb(147,147,147)" opacity="0.4"/>
<rect x="165.8" y="317.7" width="1.8" height="1.8" fill="rgb(112,112,112)" opacity="0.4"/>
<rect x="170.5" y="317.7" width="1.8" height="1.8" fill="rgb(110,110,110)" opacity="0.4"/>
<rect x="174.0" y="317.7" width="1.8" height="1.8" fill="rgb(116,116,116)" opacity="0.4"/>
<rect x="177.9" y="317.7" width="1.8" height="1.8" fill="rgb(160,160,160)" opacity="0.4"/>
<rect x="181.7" y="317.7" width="1.8" height="1.8" fill="rgb(182,182,182)" opacity="0.4"/>
<rect x="186.0" y="317.7" width="1.8" height="1.8" fill="rgb(144,144,144)" opacity="0.4"/>
<rect x="189.7" y="317.7" width="1.8" height="1.8" fill="rgb(149,149,149)" opacity="0.4"/>
<rect x="193.3" y="317.7" width="1.8" height="1.8" fill="rgb(162,162,162)" opacity="0.4"/>
<rect x="154.3" y="319.9" width="1.8" height="1.8" fill="rgb(141,141,141)" opacity="0.4"/>
<rect x="158.8" y="319.9" width="1.8" height="1.8" fill="rgb(111,111,111)" opacity="0.4"/>
<rect x="161.9" y="319.9" width="1.8" height="1.8" fill="rgb(172,172,172)" opacity="0.4"/>
<rect x="165.2" y="319.9" width="1.8" height="1.8" fill="rgb(181,181,181)" opacity="0.4"/>
<rect x="168.6" y="319.9" width="1.8" height="1.8" fill="rgb(175,175,175)" opacity="0.4"/>
<rect x="172.0" y="319.9" width="1.8" height="1.8" fill="rgb(126,126,126)" opacity="0.4"/>
<rect x="175.8" y="319.9" width="1.8" height="1.8" fill="rgb(159,159,159)" opacity="0.4"/>
<rect x="179.1" y="319.9" width="1.8" height="1.8" fill="rgb(163,163,163)" opacity="0.4"/>
<rect x="184.0" y="319.9" width="1.8" height="1.8" fill="rgb(110,110,110)" opacity="0.4"/>
<rect x="187.6" y="319.9" width="1.8" height="1.8" fill="rgb(185,185,185)" opacity="0.4"/>
<rect x="191.2" y="319.9" width="1.8" height="1.8" fill="rgb(112,112,112)" opacity="0.4"/>
<rect x="194.6" y="319.9" width="1.8" height="1.8" fill="rgb(160,160,160)" opacity="0.4"/>
<rect x="155.3" y="322.1" width="1.8" height="1.8" fill="rgb(183,183,183)" opacity="0.4"/>
<rect x="158.5" y="322.1" width="1.8" height="1.8" fill="rgb(128,128,128)" opacity="0.4"/>
<rect x="161.9" y="322.1" width="1.8" height="1.8" fill="rgb(143,143,143)" opacity="0.4"/>
<rect x="165.0" y="322.1" width="1.8" height="1.8" fill="rgb(188,188,188)" opacity="0.4"/>
<rect x="168.6" y="322.1" width="1.8" height="1.8" fill="rgb(147,147,147)" opacity="0.4"/>
<rect x="172.4" y="322.1" width="1.8" height="1.8" fill="rgb(119,119,119)" opacity="0.4"/>
<rect x="175.6" y="322.1" width="1.8" height="1.8" fill="rgb(184,184,184)" opacity="0.4"/>
<rect x="179.8" y="322.1" width="1.8" height="1.8" fill="rgb(111,111,111)" opacity="0.4"/>
<rect x="184.0" y="322.1" width="1.8" height="1.8" fill="rgb(157,157,157)" opacity="0.4"/>
<rect x="188.3" y="322.1" width="1.8" height="1.8" fill="rgb(126,126,126)" opacity="0.4"/>
<rect x="193.2" y="322.1" width="1.8" height="1.8" fill="rgb(171,171,171)" opacity="0.4"/>
<rect x="154.4" y="324.3" width="1.8" height="1.8" fill="rgb(159,159,159)" opacity="0.4"/>
<rect x="157.7" y="324.3" width="1.8" height="1.8" fill="rgb(129,129,129)" opacity="0.4"/>
<rect x="161.4" y="324.3" width="1.8" height="1.8" fill="rgb(139,139,139)" opacity="0.4"/>
<rect x="166.0" y="324.3" width="1.8" height="1.8" fill="rgb(141,141,141)" opacity="0.4"/>
<rect x="170.4" y="324.3" width="1.8" height="1.8" fill="rgb(130,130,130)" opacity="0.4"/>
<rect x="174.9" y="324.3" width="1.8" height="1.8" fill="rgb(180,180,180)" opacity="0.4"/>
<rect x="178.3" y="324.3" width="1.8" height="1.8" fill="rgb(159,159,159)" opacity="0.4"/>
<rect x="183.1" y="324.3" width="1.8" height="1.8" fill="rgb(187,187,187)" opacity="0.4"/>
<rect x="186.2" y="324.3" width="1.8" height="1.8" fill="rgb(116,116,116)" opacity="0.4"/>
<rect x="189.4" y="324.3" width="1.8" height="1.8" fill="rgb(114,114,114)" opacity="0.4"/>
<rect x="193.5" y="324.3" width="1.8" height="1.8" fill="rgb(142,142,142)" opacity="0.4"/>
<rect x="196.9" y="324.3" width="1.8" height="1.8" fill="rgb(160,160,160)" opacity="0.4"/>
<rect x="219.6" y="312.8" width="1.8" height="1.8" fill="rgb(186,186,186)" opacity="0.4"/>
<rect x="223.6" y="312.8" width="1.8" height="1.8" fill="rgb(176,176,176)" opacity="0.4"/>
<rect x="227.0" y="312.8" width="1.8" height="1.8" fill="rgb(118,118,118)" opacity="0.4"/>
<rect x="230.2" y="312.8" width="1.8" height="1.8" fill="rgb(171,171,171)" opacity="0.4"/>
<rect x="234.4" y="312.8" width="1.8" height="1.8" fill="rgb(188,188,188)" opacity="0.4"/>
<rect x="238.6" y="312.8" width="1.8" height="1.8" fill="rgb(145,145,145)" opacity="0.4"/>
<rect x="242.0" y="312.8" width="1.8" height="1.8" fill="rgb(136,136,136)" opacity="0.4"/>
<rect x="246.5" y="312.8" width="1.8" height="1.8" fill="rgb(118,118,118)" opacity="0.4"/>
<rect x="250.0" y="312.8" width="1.8" height="1.8" fill="rgb(167,167,167)" opacity="0.4"/>
<rect x="253.5" y="312.8" width="1.8" height="1.8" fill="rgb(115,115,115)" opacity="0.4"/>
<rect x="256.9" y="312.8" width="1.8" height="1.8" fill="rgb(157,157,157)" opacity="0.4"/>
<rect x="261.0" y="312.8" width="1.8" height="1.8" fill="rgb(126,126,126)" opacity="0.4"/>
<rect x="218.3" y="315.0" width="1.8" height="1.8" fill="rgb(167,167,167)" opacity="0.4"/>
<rect x="223.2" y="315.0" width="1.8" height="1.8" fill="rgb(176,176,176)" opacity="0.4"/>
<rect x="227.4" y="315.0" width="1.8" height="1.8" fill="rgb(127,127,127)" opacity="0.4"/>
<rect x="231.6" y="315.0" width="1.8" height="1.8" fill="rgb(112,112,112)" opacity="0.4"/>
<rect x="235.5" y="315.0" width="1.8" height="1.8" fill="rgb(155,155,155)" opacity="0.4"/>
<rect x="239.9" y="315.0" width="1.8" height="1.8" fill="rgb(114,114,114)" opacity="0.4"/>
<rect x="243.0" y="315.0" width="1.8" height="1.8" fill="rgb(119,119,119)" opacity="0.4"/>
<rect x="246.9" y="315.0" width="1.8" height="1.8" fill="rgb(149,149,149)" opacity="0.4"/>
<rect x="250.6" y="315.0" width="1.8" height="1.8" fill="rgb(119,119,119)" opacity="0.4"/>
<rect x="253.7" y="315.0" width="1.8" height="1.8" fill="rgb(179,179,179)" opacity="0.4"/>
<rect x="257.5" y="315.0" width="1.8" height="1.8" fill="rgb(115,115,115)" opacity="0.4"/>
<rect x="219.5" y="317.2" width="1.8" height="1.8" fill="rgb(126,126,126)" opacity="0.4"/>
<rect x="224.1" y="317.2" width="1.8" height="1.8" fill="rgb(153,153,153)" opacity="0.4"/>
<rect x="227.8" y="317.2" width="1.8" height="1.8" fill="rgb(170,170,170)" opacity="0.4"/>
<rect x="232.6" y="317.2" width="1.8" height="1.8" fill="rgb(163,163,163)" opacity="0.4"/>
<rect x="237.5" y="317.2" width="1.8" height="1.8" fill="rgb(113,113,113)" opacity="0.4"/>
<rect x="242.2" y="317.2" width="1.8" height="1.8" fill="rgb(183,183,183)" opacity="0.4"/>
<rect x="245.2" y="317.2" width="1.8" height="1.8" fill="rgb(158,158,158)" opacity="0.4"/>
<rect x="249.0" y="317.2" width="1.8" height="1.8" fill="rgb(111,111,111)" opacity="0.4"/>
<rect x="253.2" y="317.2" width="1.8" height="1.8" fill="rgb(120,120,120)" opacity="0.4"/>
<rect x="256.4" y="317.2" width="1.8" height="1.8" fill="rgb(124,124,124)" opacity="0.4"/>
<rect x="261.4" y="317.2" width="1.8" height="1.8" fill="rgb(163,163,163)" opacity="0.4"/>
<rect x="218.8" y="319.4" width="1.8" height="1.8" fill="rgb(184,184,184)" opacity="0.4"/>
<rect x="222.7" y="319.4" width="1.8" height="1.8" fill="rgb(169,169,169)" opacity="0.4"/>
<rect x="227.4" y="319.4" width="1.8" height="1.8" fill="rgb(120,120,120)" opacity="0.4"/>
<rect x="231.4" y="319.4" width="1.8" height="1.8" fill="rgb(175,175,175)" opacity="0.4"/>
<rect x="234.5" y="319.4" width="1.8" height="1.8" fill="rgb(186,186,186)" opacity="0.4"/>
<rect x="237.6" y="319.4" width="1.8" height="1.8" fill="rgb(112,112,112)" opacity="0.4"/>
<rect x="241.1" y="319.4" width="1.8" height="1.8" fill="rgb(124,124,124)" opacity="0.4"/>
<rect x="245.1" y="319.4" width="1.8" height="1.8" fill="rgb(188,188,188)" opacity="0.4"/>
<rect x="249.4" y="319.4" width="1.8" height="1.8" fill="rgb(172,172,172)" opacity="0.4"/>
<rect x="252.9" y="319.4" width="1.8" height="1.8" fill="rgb(111,111,111)" opacity="0.4"/>
<rect x="256.7" y="319.4" width="1.8" height="1.8" fill="rgb(128,128,128)" opacity="0.4"/>
<rect x="261.0" y="319.4" width="1.8" height="1.8" fill="rgb(135,135,135)" opacity="0.4"/>
<rect x="219.5" y="321.6" width="1.8" height="1.8" fill="rgb(153,153,153)" opacity="0.4"/>
<rect x="223.8" y="321.6" width="1.8" height="1.8" fill="rgb(166,166,166)" opacity="0.4"/>
<rect x="227.8" y="321.6" width="1.8" height="1.8" fill="rgb(140,140,140)" opacity="0.4"/>
<rect x="231.5" y="321.6" width="1.8" height="1.8" fill="rgb(142,142,142)" opacity="0.4"/>
<rect x="234.9" y="321.6" width="1.8" height="1.8" fill="rgb(165,165,165)" opacity="0.4"/>
<rect x="239.5" y="321.6" width="1.8" height="1.8" fill="rgb(135,135,135)" opacity="0.4"/>
<rect x="244.2" y="321.6" width="1.8" height="1.8" fill="rgb(159,159,159)" opacity="0.4"/>
<rect x="247.7" y="321.6" width="1.8" height="1.8" fill="rgb(150,150,150)" opacity="0.4"/>
<rect x="251.1" y="321.6" width="1.8" height="1.8" fill="rgb(127,127,127)" opacity="0.4"/>
<rect x="255.1" y="321.6" width="1.8" height="1.8" fill="rgb(115,115,115)" opacity="0.4"/>
<rect x="259.5" y="321.6" width="1.8" height="1.8" fill="rgb(145,145,145)" opacity="0.4"/>
<rect x="287.6" y="312.5" width="1.8" height="1.8" fill="rgb(170,170,170)" opacity="0.4"/>
<rect x="291.2" y="312.5" width="1.8" height="1.8" fill="rgb(137,137,137)" opacity="0.4"/>
<rect x="295.8" y="312.5" width="1.8" height="1.8" fill="rgb(158,158,158)" opacity="0.4"/>
<rect x="300.1" y="312.5" width="1.8" height="1.8" fill="rgb(173,173,173)" opacity="0.4"/>
<rect x="304.4" y="312.5" width="1.8" height="1.8" fill="rgb(189,189,189)" opacity="0.4"/>
<rect x="308.3" y="312.5" width="1.8" height="1.8" fill="rgb(119,119,119)" opacity="0.4"/>
<rect x="313.0" y="312.5" width="1.8" height="1.8" fill="rgb(145,145,145)" opacity="0.4"/>
<rect x="317.7" y="312.5" width="1.8" height="1.8" fill="rgb(115,115,115)" opacity="0.4"/>
<rect x="322.1" y="312.5" width="1.8" height="1.8" fill="rgb(145,145,145)" opacity="0.4"/>
<rect x="326.2" y="312.5" width="1.8" height="1.8" fill="rgb(149,149,149)" opacity="0.4"/>
<rect x="330.5" y="312.5" width="1.8" height="1.8" fill="rgb(182,182,182)" opacity="0.4"/>
<rect x="287.7" y="314.7" width="1.8" height="1.8" fill="rgb(168,168,168)" opacity="0.4"/>
<rect x="291.1" y="314.7" width="1.8" height="1.8" fill="rgb(144,144,144)" opacity="0.4"/>
<rect x="294.5" y="314.7" width="1.8" height="1.8" fill="rgb(128,128,128)" opacity="0.4"/>
<rect x="299.1" y="314.7" width="1.8" height="1.8" fill="rgb(190,190,190)" opacity="0.4"/>
<rect x="302.4" y="314.7" width="1.8" height="1.8" fill="rgb(123,123,123)" opacity="0.4"/>
<rect x="306.6" y="314.7" width="1.8" height="1.8" fill="rgb(157,157,157)" opacity="0.4"/>
<rect x="311.5" y="314.7" width="1.8" height="1.8" fill="rgb(135,135,135)" opacity="0.4"/>
<rect x="314.9" y="314.7" width="1.8" height="1.8" fill="rgb(170,170,170)" opacity="0.4"/>
<rect x="318.4" y="314.7" width="1.8" height="1.8" fill="rgb(111,111,111)" opacity="0.4"/>
<rect x="322.9" y="314.7" width="1.8" height="1.8" fill="rgb(178,178,178)" opacity="0.4"/>
<rect x="327.4" y="314.7" width="1.8" height="1.8" fill="rgb(132,132,132)" opacity="0.4"/>
<rect x="330.8" y="314.7" width="1.8" height="1.8" fill="rgb(154,154,154)" opacity="0.4"/>
<rect x="289.3" y="316.9" width="1.8" height="1.8" fill="rgb(174,174,174)" opacity="0.4"/>
<rect x="293.5" y="316.9" width="1.8" height="1.8" fill="rgb(130,130,130)" opacity="0.4"/>
<rect x="297.3" y="316.9" width="1.8" height="1.8" fill="rgb(138,138,138)" opacity="0.4"/>
<rect x="300.5" y="316.9" width="1.8" height="1.8" fill="rgb(159,159,159)" opacity="0.4"/>
<rect x="303.7" y="316.9" width="1.8" height="1.8" fill="rgb(168,168,168)" opacity="0.4"/>
<rect x="307.1" y="316.9" width="1.8" height="1.8" fill="rgb(110,110,110)" opacity="0.4"/>
<rect x="310.9" y="316.9" width="1.8" height="1.8" fill="rgb(182,182,182)" opacity="0.4"/>
<rect x="315.2" y="316.9" width="1.8" height="1.8" fill="rgb(174,174,174)" opacity="0.4"/>
<rect x="319.8" y="316.9" width="1.8" height="1.8" fill="rgb(153,153,153)" opacity="0.4"/>
<rect x="323.7" y="316.9" width="1.8" height="1.8" fill="rgb(136,136,136)" opacity="0.4"/>
<rect x="326.9" y="316.9" width="1.8" height="1.8" fill="rgb(125,125,125)" opacity="0.4"/>
<rect x="330.3" y="316.9" width="1.8" height="1.8" fill="rgb(159,159,159)" opacity="0.4"/>
<rect x="289.4" y="319.1" width="1.8" height="1.8" fill="rgb(178,178,178)" opacity="0.4"/>
<rect x="294.3" y="319.1" width="1.8" height="1.8" fill="rgb(151,151,151)" opacity="0.4"/>
<rect x="297.8" y="319.1" width="1.8" height="1.8" fill="rgb(112,112,112)" opacity="0.4"/>
<rect x="301.5" y="319.1" width="1.8" height="1.8" fill="rgb(120,120,120)" opacity="0.4"/>
<rect x="304.6" y="319.1" width="1.8" height="1.8" fill="rgb(153,153,153)" opacity="0.4"/>
<rect x="308.7" y="319.1" width="1.8" height="1.8" fill="rgb(145,145,145)" opacity="0.4"/>
<rect x="312.7" y="319.1" width="1.8" height="1.8" fill="rgb(113,113,113)" opacity="0.4"/>
<rect x="316.1" y="319.1" width="1.8" height="1.8" fill="rgb(118,118,118)" opacity="0.4"/>
<rect x="320.0" y="319.1" width="1.8" height="1.8" fill="rgb(114,114,114)" opacity="0.4"/>
<rect x="323.3" y="319.1" width="1.8" height="1.8" fill="rgb(152,152,152)" opacity="0.4"/>
<rect x="327.7" y="319.1" width="1.8" height="1.8" fill="rgb(127,127,127)" opacity="0.4"/>
<rect x="331.6" y="319.1" width="1.8" height="1.8" fill="rgb(176,176,176)" opacity="0.4"/>
<rect x="288.4" y="321.3" width="1.8" height="1.8" fill="rgb(166,166,166)" opacity="0.4"/>
<rect x="293.3" y="321.3" width="1.8" height="1.8" fill="rgb(173,173,173)" opacity="0.4"/>
<rect x="297.5" y="321.3" width="1.8" height="1.8" fill="rgb(121,121,121)" opacity="0.4"/>
<rect x="302.0" y="321.3" width="1.8" height="1.8" fill="rgb(166,166,166)" opacity="0.4"/>
<rect x="306.1" y="321.3" width="1.8" height="1.8" fill="rgb(147,147,147)" opacity="0.4"/>
<rect x="310.7" y="321.3" width="1.8" height="1.8" fill="rgb(181,181,181)" opacity="0.4"/>
<rect x="315.0" y="321.3" width="1.8" height="1.8" fill="rgb(176,176,176)" opacity="0.4"/>
<rect x="319.0" y="321.3" width="1.8" height="1.8" fill="rgb(181,181,181)" opacity="0.4"/>
<rect x="322.5" y="321.3" width="1.8" height="1.8" fill="rgb(158,158,158)" opacity="0.4"/>
<rect x="327.4" y="321.3" width="1.8" height="1.8" fill="rgb(188,188,188)" opacity="0.4"/>
<rect x="330.9" y="321.3" width="1.8" height="1.8" fill="rgb(128,128,128)" opacity="0.4"/>
<rect x="288.4" y="323.5" width="1.8" height="1.8" fill="rgb(183,183,183)" opacity="0.4"/>
<rect x="292.4" y="323.5" width="1.8" height="1.8" fill="rgb(162,162,162)" opacity="0.4"/>
<rect x="296.5" y="323.5" width="1.8" height="1.8" fill="rgb(174,174,174)" opacity="0.4"/>
<rect x="299.5" y="323.5" width="1.8" height="1.8" fill="rgb(158,158,158)" opacity="0.4"/>
<rect x="302.6" y="323.5" width="1.8" height="1.8" fill="rgb(115,115,115)" opacity="0.4"/>
<rect x="306.6" y="323.5" width="1.8" height="1.8" fill="rgb(161,161,161)" opacity="0.4"/>
<rect x="310.7" y="323.5" width="1.8" height="1.8" fill="rgb(182,182,182)" opacity="0.4"/>
<rect x="313.9" y="323.5" width="1.8" height="1.8" fill="rgb(121,121,121)" opacity="0.4"/>
<rect x="318.3" y="323.5" width="1.8" height="1.8" fill="rgb(118,118,118)" opacity="0.4"/>
<rect x="323.2" y="323.5" width="1.8" height="1.8" fill="rgb(168,168,168)" opacity="0.4"/>
<rect x="327.0" y="323.5" width="1.8" height="1.8" fill="rgb(161,161,161)" opacity="0.4"/>
<rect x="330.6" y="323.5" width="1.8" height="1.8" fill="rgb(170,170,170)" opacity="0.4"/>
<rect x="359.7" y="311.5" width="1.8" height="1.8" fill="rgb(170,170,170)" opacity="0.4"/>
<rect x="363.7" y="311.5" width="1.8" height="1.8" fill="rgb(123,123,123)" opacity="0.4"/>
<rect x="367.1" y="311.5" width="1.8" height="1.8" fill="rgb(189,189,189)" opacity="0.4"/>
<rect x="370.2" y="311.5" width="1.8" height="1.8" fill="rgb(143,143,143)" opacity="0.4"/>
<rect x="373.4" y="311.5" width="1.8" height="1.8" fill="rgb(112,112,112)" opacity="0.4"/>
<rect x="376.5" y="311.5" width="1.8" height="1.8" fill="rgb(129,129,129)" opacity="0.4"/>
<rect x="380.0" y="311.5" width="1.8" height="1.8" fill="rgb(146,146,146)" opacity="0.4"/>
<rect x="383.6" y="311.5" width="1.8" height="1.8" fill="rgb(155,155,155)" opacity="0.4"/>
<rect x="387.1" y="311.5" width="1.8" height="1.8" fill="rgb(173,173,173)" opacity="0.4"/>
<rect x="390.3" y="311.5" width="1.8" height="1.8" fill="rgb(184,184,184)" opacity="0.4"/>
<rect x="393.5" y="311.5" width="1.8" height="1.8" fill="rgb(175,175,175)" opacity="0.4"/>
<rect x="397.8" y="311.5" width="1.8" height="1.8" fill="rgb(135,135,135)" opacity="0.4"/>
<rect x="402.2" y="311.5" width="1.8" height="1.8" fill="rgb(165,165,165)" opacity="0.4"/>
<rect x="360.3" y="313.7" width="1.8" height="1.8" fill="rgb(177,177,177)" opacity="0.4"/>
<rect x="364.5" y="313.7" width="1.8" height="1.8" fill="rgb(178,178,178)" opacity="0.4"/>
<rect x="367.9" y="313.7" width="1.8" height="1.8" fill="rgb(190,190,190)" opacity="0.4"/>
<rect x="372.0" y="313.7" width="1.8" height="1.8" fill="rgb(137,137,137)" opacity="0.4"/>
<rect x="376.0" y="313.7" width="1.8" height="1.8" fill="rgb(179,179,179)" opacity="0.4"/>
<rect x="380.3" y="313.7" width="1.8" height="1.8" fill="rgb(127,127,127)" opacity="0.4"/>
<rect x="383.7" y="313.7" width="1.8" height="1.8" fill="rgb(190,190,190)" opacity="0.4"/>
<rect x="388.3" y="313.7" width="1.8" height="1.8" fill="rgb(133,133,133)" opacity="0.4"/>
<rect x="392.0" y="313.7" width="1.8" height="1.8" fill="rgb(150,150,150)" opacity="0.4"/>
<rect x="396.8" y="313.7" width="1.8" height="1.8" fill="rgb(134,134,134)" opacity="0.4"/>
<rect x="400.2" y="313.7" width="1.8" height="1.8" fill="rgb(134,134,134)" opacity="0.4"/>
<rect x="405.0" y="313.7" width="1.8" height="1.8" fill="rgb(127,127,127)" opacity="0.4"/>
<rect x="359.3" y="315.9" width="1.8" height="1.8" fill="rgb(121,121,121)" opacity="0.4"/>
<rect x="362.8" y="315.9" width="1.8" height="1.8" fill="rgb(122,122,122)" opacity="0.4"/>
<rect x="366.7" y="315.9" width="1.8" height="1.8" fill="rgb(163,163,163)" opacity="0.4"/>
<rect x="370.7" y="315.9" width="1.8" height="1.8" fill="rgb(126,126,126)" opacity="0.4"/>
<rect x="374.1" y="315.9" width="1.8" height="1.8" fill="rgb(190,190,190)" opacity="0.4"/>
<rect x="378.5" y="315.9" width="1.8" height="1.8" fill="rgb(112,112,112)" opacity="0.4"/>
<rect x="381.7" y="315.9" width="1.8" height="1.8" fill="rgb(182,182,182)" opacity="0.4"/>
<rect x="386.1" y="315.9" width="1.8" height="1.8" fill="rgb(156,156,156)" opacity="0.4"/>
<rect x="389.3" y="315.9" width="1.8" height="1.8" fill="rgb(174,174,174)" opacity="0.4"/>
<rect x="393.6" y="315.9" width="1.8" height="1.8" fill="rgb(153,153,153)" opacity="0.4"/>
<rect x="397.6" y="315.9" width="1.8" height="1.8" fill="rgb(134,134,134)" opacity="0.4"/>
<rect x="402.2" y="315.9" width="1.8" height="1.8" fill="rgb(171,171,171)" opacity="0.4"/>
<rect x="359.1" y="318.1" width="1.8" height="1.8" fill="rgb(180,180,180)" opacity="0.4"/>
<rect x="363.3" y="318.1" width="1.8" height="1.8" fill="rgb(182,182,182)" opacity="0.4"/>
<rect x="367.3" y="318.1" width="1.8" height="1.8" fill="rgb(134,134,134)" opacity="0.4"/>
<rect x="370.6" y="318.1" width="1.8" height="1.8" fill="rgb(136,136,136)" opacity="0.4"/>
<rect x="374.0" y="318.1" width="1.8" height="1.8" fill="rgb(130,130,130)" opacity="0.4"/>
<rect x="379.0" y="318.1" width="1.8" height="1.8" fill="rgb(122,122,122)" opacity="0.4"/>
<rect x="383.1" y="318.1" width="1.8" height="1.8" fill="rgb(127,127,127)" opacity="0.4"/>
<rect x="388.0" y="318.1" width="1.8" height="1.8" fill="rgb(169,169,169)" opacity="0.4"/>
<rect x="391.2" y="318.1" width="1.8" height="1.8" fill="rgb(122,122,122)" opacity="0.4"/>
<rect x="394.8" y="318.1" width="1.8" height="1.8" fill="rgb(169,169,169)" opacity="0.4"/>
<rect x="398.7" y="318.1" width="1.8" height="1.8" fill="rgb(155,155,155)" opacity="0.4"/>
<rect x="402.5" y="318.1" width="1.8" height="1.8" fill="rgb(186,186,186)" opacity="0.4"/>
<rect x="360.3" y="320.3" width="1.8" height="1.8" fill="rgb(115,115,115)" opacity="0.4"/>
<rect x="365.0" y="320.3" width="1.8" height="1.8" fill="rgb(133,133,133)" opacity="0.4"/>
<rect x="368.8" y="320.3" width="1.8" height="1.8" fill="rgb(156,156,156)" opacity="0.4"/>
<rect x="373.3" y="320.3" width="1.8" height="1.8" fill="rgb(161,161,161)" opacity="0.4"/>
<rect x="378.1" y="320.3" width="1.8" height="1.8" fill="rgb(187,187,187)" opacity="0.4"/>
<rect x="381.4" y="320.3" width="1.8" height="1.8" fill="rgb(175,175,175)" opacity="0.4"/>
<rect x="386.0" y="320.3" width="1.8" height="1.8" fill="rgb(151,151,151)" opacity="0.4"/>
<rect x="390.8" y="320.3" width="1.8" height="1.8" fill="rgb(190,190,190)" opacity="0.4"/>
<rect x="395.7" y="320.3" width="1.8" height="1.8" fill="rgb(182,182,182)" opacity="0.4"/>
<rect x="399.9" y="320.3" width="1.8" height="1.8" fill="rgb(174,174,174)" opacity="0.4"/>
<rect x="404.0" y="320.3" width="1.8" height="1.8" fill="rgb(153,153,153)" opacity="0.4"/>
<rect x="359.5" y="322.5" width="1.8" height="1.8" fill="rgb(124,124,124)" opacity="0.4"/>
<rect x="364.0" y="322.5" width="1.8" height="1.8" fill="rgb(130,130,130)" opacity="0.4"/>
<rect x="368.6" y="322.5" width="1.8" height="1.8" fill="rgb(161,161,161)" opacity="0.4"/>
<rect x="371.9" y="322.5" width="1.8" height="1.8" fill="rgb(152,152,152)" opacity="0.4"/>
<rect x="376.7" y="322.5" width="1.8" height="1.8" fill="rgb(157,157,157)" opacity="0.4"/>
<rect x="381.2" y="322.5" width="1.8" height="1.8" fill="rgb(133,133,133)" opacity="0.4"/>
<rect x="385.0" y="322.5" width="1.8" height="1.8" fill="rgb(133,133,133)" opacity="0.4"/>
<rect x="388.1" y="322.5" width="1.8" height="1.8" fill="rgb(153,153,153)" opacity="0.4"/>
<rect x="391.8" y="322.5" width="1.8" height="1.8" fill="rgb(122,122,122)" opacity="0.4"/>
<rect x="394.8" y="322.5" width="1.8" height="1.8" fill="rgb(155,155,155)" opacity="0.4"/>
<rect x="399.8" y="322.5" width="1.8" height="1.8" fill="rgb(189,189,189)" opacity="0.4"/>
<rect x="402.9" y="322.5" width="1.8" height="1.8" fill="rgb(144,144,144)" opacity="0.4"/>
<rect x="427.8" y="313.5" width="1.8" height="1.8" fill="rgb(153,153,153)" opacity="0.4"/>
<rect x="431.3" y="313.5" width="1.8" height="1.8" fill="rgb(161,161,161)" opacity="0.4"/>
<rect x="435.4" y="313.5" width="1.8" height="1.8" fill="rgb(178,178,178)" opacity="0.4"/>
<rect x="438.6" y="313.5" width="1.8" height="1.8" fill="rgb(175,175,175)" opacity="0.4"/>
<rect x="443.6" y="313.5" width="1.8" height="1.8" fill="rgb(137,137,137)" opacity="0.4"/>
<rect x="448.0" y="313.5" width="1.8" height="1.8" fill="rgb(160,160,160)" opacity="0.4"/>
<rect x="452.9" y="313.5" width="1.8" height="1.8" fill="rgb(112,112,112)" opacity="0.4"/>
<rect x="456.1" y="313.5" width="1.8" height="1.8" fill="rgb(123,123,123)" opacity="0.4"/>
<rect x="460.6" y="313.5" width="1.8" height="1.8" fill="rgb(142,142,142)" opacity="0.4"/>
<rect x="464.5" y="313.5" width="1.8" height="1.8" fill="rgb(174,174,174)" opacity="0.4"/>
<rect x="467.6" y="313.5" width="1.8" height="1.8" fill="rgb(135,135,135)" opacity="0.4"/>
<rect x="426.5" y="315.7" width="1.8" height="1.8" fill="rgb(143,143,143)" opacity="0.4"/>
<rect x="430.0" y="315.7" width="1.8" height="1.8" fill="rgb(153,153,153)" opacity="0.4"/>
<rect x="434.1" y="315.7" width="1.8" height="1.8" fill="rgb(175,175,175)" opacity="0.4"/>
<rect x="438.0" y="315.7" width="1.8" height="1.8" fill="rgb(176,176,176)" opacity="0.4"/>
<rect x="442.1" y="315.7" width="1.8" height="1.8" fill="rgb(122,122,122)" opacity="0.4"/>
<rect x="446.4" y="315.7" width="1.8" height="1.8" fill="rgb(119,119,119)" opacity="0.4"/>
<rect x="450.5" y="315.7" width="1.8" height="1.8" fill="rgb(115,115,115)" opacity="0.4"/>
<rect x="454.2" y="315.7" width="1.8" height="1.8" fill="rgb(130,130,130)" opacity="0.4"/>
<rect x="458.0" y="315.7" width="1.8" height="1.8" fill="rgb(131,131,131)" opacity="0.4"/>
<rect x="462.7" y="315.7" width="1.8" height="1.8" fill="rgb(179,179,179)" opacity="0.4"/>
<rect x="466.9" y="315.7" width="1.8" height="1.8" fill="rgb(117,117,117)" opacity="0.4"/>
<rect x="470.8" y="315.7" width="1.8" height="1.8" fill="rgb(173,173,173)" opacity="0.4"/>
<rect x="427.6" y="317.9" width="1.8" height="1.8" fill="rgb(186,186,186)" opacity="0.4"/>
<rect x="431.2" y="317.9" width="1.8" height="1.8" fill="rgb(177,177,177)" opacity="0.4"/>
<rect x="434.7" y="317.9" width="1.8" height="1.8" fill="rgb(144,144,144)" opacity="0.4"/>
<rect x="438.9" y="317.9" width="1.8" height="1.8" fill="rgb(146,146,146)" opacity="0.4"/>
<rect x="443.2" y="317.9" width="1.8" height="1.8" fill="rgb(147,147,147)" opacity="0.4"/>
<rect x="446.3" y="317.9" width="1.8" height="1.8" fill="rgb(141,141,141)" opacity="0.4"/>
<rect x="450.4" y="317.9" width="1.8" height="1.8" fill="rgb(130,130,130)" opacity="0.4"/>
<rect x="454.2" y="317.9" width="1.8" height="1.8" fill="rgb(159,159,159)" opacity="0.4"/>
<rect x="457.3" y="317.9" width="1.8" height="1.8" fill="rgb(150,150,150)" opacity="0.4"/>
<rect x="461.8" y="317.9" width="1.8" height="1.8" fill="rgb(116,116,116)" opacity="0.4"/>
<rect x="466.0" y="317.9" width="1.8" height="1.8" fill="rgb(150,150,150)" opacity="0.4"/>
<rect x="469.2" y="317.9" width="1.8" height="1.8" fill="rgb(138,138,138)" opacity="0.4"/>
<rect x="427.5" y="320.1" width="1.8" height="1.8" fill="rgb(141,141,141)" opacity="0.4"/>
<rect x="430.5" y="320.1" width="1.8" height="1.8" fill="rgb(122,122,122)" opacity="0.4"/>
<rect x="435.4" y="320.1" width="1.8" height="1.8" fill="rgb(169,169,169)" opacity="0.4"/>
<rect x="438.7" y="320.1" width="1.8" height="1.8" fill="rgb(141,141,141)" opacity="0.4"/>
<rect x="442.9" y="320.1" width="1.8" height="1.8" fill="rgb(124,124,124)" opacity="0.4"/>
<rect x="446.0" y="320.1" width="1.8" height="1.8" fill="rgb(163,163,163)" opacity="0.4"/>
<rect x="449.9" y="320.1" width="1.8" height="1.8" fill="rgb(136,136,136)" opacity="0.4"/>
<rect x="454.7" y="320.1" width="1.8" height="1.8" fill="rgb(155,155,155)" opacity="0.4"/>
<rect x="458.7" y="320.1" width="1.8" height="1.8" fill="rgb(125,125,125)" opacity="0.4"/>
<rect x="462.4" y="320.1" width="1.8" height="1.8" fill="rgb(127,127,127)" opacity="0.4"/>
<rect x="466.8" y="320.1" width="1.8" height="1.8" fill="rgb(168,168,168)" opacity="0.4"/>
<rect x="471.0" y="320.1" width="1.8" height="1.8" fill="rgb(184,184,184)" opacity="0.4"/>
<rect x="427.2" y="322.3" width="1.8" height="1.8" fill="rgb(177,177,177)" opacity="0.4"/>
<rect x="431.9" y="322.3" width="1.8" height="1.8" fill="rgb(127,127,127)" opacity="0.4"/>
<rect x="436.8" y="322.3" width="1.8" height="1.8" fill="rgb(126,126,126)" opacity="0.4"/>
<rect x="440.2" y="322.3" width="1.8" height="1.8" fill="rgb(124,124,124)" opacity="0.4"/>
<rect x="444.2" y="322.3" width="1.8" height="1.8" fill="rgb(149,149,149)" opacity="0.4"/>
<rect x="448.8" y="322.3" width="1.8" height="1.8" fill="rgb(189,189,189)" opacity="0.4"/>
<rect x="453.5" y="322.3" width="1.8" height="1.8" fill="rgb(145,145,145)" opacity="0.4"/>
<rect x="457.1" y="322.3" width="1.8" height="1.8" fill="rgb(182,182,182)" opacity="0.4"/>
<rect x="461.4" y="322.3" width="1.8" height="1.8" fill="rgb(134,134,134)" opacity="0.4"/>
<rect x="465.7" y="322.3" width="1.8" height="1.8" fill="rgb(140,140,140)" opacity="0.4"/>
<rect x="469.1" y="322.3" width="1.8" height="1.8" fill="rgb(141,141,141)" opacity="0.4"/>
<rect x="427.8" y="324.5" width="1.8" height="1.8" fill="rgb(135,135,135)" opacity="0.4"/>
<rect x="432.6" y="324.5" width="1.8" height="1.8" fill="rgb(115,115,115)" opacity="0.4"/>
<rect x="436.8" y="324.5" width="1.8" height="1.8" fill="rgb(111,111,111)" opacity="0.4"/>
<rect x="440.4" y="324.5" width="1.8" height="1.8" fill="rgb(164,164,164)" opacity="0.4"/>
<rect x="443.4" y="324.5" width="1.8" height="1.8" fill="rgb(114,114,114)" opacity="0.4"/>
<rect x="446.6" y="324.5" width="1.8" height="1.8" fill="rgb(179,179,179)" opacity="0.4"/>
<rect x="450.2" y="324.5" width="1.8" height="1.8" fill="rgb(121,121,121)" opacity="0.4"/>
<rect x="455.0" y="324.5" width="1.8" height="1.8" fill="rgb(130,130,130)" opacity="0.4"/>
<rect x="459.1" y="324.5" width="1.8" height="1.8" fill="rgb(190,190,190)" opacity="0.4"/>
<rect x="464.1" y="324.5" width="1.8" height="1.8" fill="rgb(171,171,171)" opacity="0.4"/>
<rect x="468.0" y="324.5" width="1.8" height="1.8" fill="rgb(136,136,136)" opacity="0.4"/>
<rect x="493.7" y="313.5" width="1.8" height="1.8" fill="rgb(127,127,127)" opacity="0.4"/>
<rect x="498.4" y="313.5" width="1.8" height="1.8" fill="rgb(119,119,119)" opacity="0.4"/>
<rect x="503.0" y="313.5" width="1.8" height="1.8" fill="rgb(167,167,167)" opacity="0.4"/>
<rect x="507.6" y="313.5" width="1.8" height="1.8" fill="rgb(189,189,189)" opacity="0.4"/>
<rect x="512.3" y="313.5" width="1.8" height="1.8" fill="rgb(137,137,137)" opacity="0.4"/>
<rect x="516.2" y="313.5" width="1.8" height="1.8" fill="rgb(143,143,143)" opacity="0.4"/>
<rect x="519.9" y="313.5" width="1.8" height="1.8" fill="rgb(129,129,129)" opacity="0.4"/>
<rect x="523.7" y="313.5" width="1.8" height="1.8" fill="rgb(186,186,186)" opacity="0.4"/>
<rect x="527.3" y="313.5" width="1.8" height="1.8" fill="rgb(180,180,180)" opacity="0.4"/>
<rect x="531.8" y="313.5" width="1.8" height="1.8" fill="rgb(133,133,133)" opacity="0.4"/>
<rect x="535.7" y="313.5" width="1.8" height="1.8" fill="rgb(157,157,157)" opacity="0.4"/>
<rect x="493.6" y="315.7" width="1.8" height="1.8" fill="rgb(151,151,151)" opacity="0.4"/>
<rect x="496.8" y="315.7" width="1.8" height="1.8" fill="rgb(120,120,120)" opacity="0.4"/>
<rect x="500.6" y="315.7" width="1.8" height="1.8" fill="rgb(182,182,182)" opacity="0.4"/>
<rect x="504.6" y="315.7" width="1.8" height="1.8" fill="rgb(169,169,169)" opacity="0.4"/>
<rect x="508.2" y="315.7" width="1.8" height="1.8" fill="rgb(111,111,111)" opacity="0.4"/>
<rect x="511.4" y="315.7" width="1.8" height="1.8" fill="rgb(137,137,137)" opacity="0.4"/>
<rect x="516.2" y="315.7" width="1.8" height="1.8" fill="rgb(187,187,187)" opacity="0.4"/>
<rect x="519.3" y="315.7" width="1.8" height="1.8" fill="rgb(148,148,148)" opacity="0.4"/>
<rect x="523.3" y="315.7" width="1.8" height="1.8" fill="rgb(151,151,151)" opacity="0.4"/>
<rect x="526.9" y="315.7" width="1.8" height="1.8" fill="rgb(128,128,128)" opacity="0.4"/>
<rect x="530.3" y="315.7" width="1.8" height="1.8" fill="rgb(151,151,151)" opacity="0.4"/>
<rect x="534.1" y="315.7" width="1.8" height="1.8" fill="rgb(125,125,125)" opacity="0.4"/>
<rect x="537.7" y="315.7" width="1.8" height="1.8" fill="rgb(166,166,166)" opacity="0.4"/>
<rect x="494.5" y="317.9" width="1.8" height="1.8" fill="rgb(145,145,145)" opacity="0.4"/>
<rect x="498.4" y="317.9" width="1.8" height="1.8" fill="rgb(149,149,149)" opacity="0.4"/>
<rect x="502.3" y="317.9" width="1.8" height="1.8" fill="rgb(138,138,138)" opacity="0.4"/>
<rect x="506.1" y="317.9" width="1.8" height="1.8" fill="rgb(176,176,176)" opacity="0.4"/>
<rect x="509.6" y="317.9" width="1.8" height="1.8" fill="rgb(156,156,156)" opacity="0.4"/>
<rect x="514.3" y="317.9" width="1.8" height="1.8" fill="rgb(113,113,113)" opacity="0.4"/>
<rect x="518.0" y="317.9" width="1.8" height="1.8" fill="rgb(160,160,160)" opacity="0.4"/>
<rect x="522.2" y="317.9" width="1.8" height="1.8" fill="rgb(134,134,134)" opacity="0.4"/>
<rect x="526.7" y="317.9" width="1.8" height="1.8" fill="rgb(157,157,157)" opacity="0.4"/>
<rect x="531.3" y="317.9" width="1.8" height="1.8" fill="rgb(179,179,179)" opacity="0.4"/>
<rect x="534.6" y="317.9" width="1.8" height="1.8" fill="rgb(185,185,185)" opacity="0.4"/>
<rect x="538.7" y="317.9" width="1.8" height="1.8" fill="rgb(132,132,132)" opacity="0.4"/>
<rect x="493.6" y="320.1" width="1.8" height="1.8" fill="rgb(146,146,146)" opacity="0.4"/>
<rect x="498.2" y="320.1" width="1.8" height="1.8" fill="rgb(138,138,138)" opacity="0.4"/>
<rect x="502.3" y="320.1" width="1.8" height="1.8" fill="rgb(179,179,179)" opacity="0.4"/>
<rect x="505.6" y="320.1" width="1.8" height="1.8" fill="rgb(147,147,147)" opacity="0.4"/>
<rect x="510.5" y="320.1" width="1.8" height="1.8" fill="rgb(164,164,164)" opacity="0.4"/>
<rect x="513.6" y="320.1" width="1.8" height="1.8" fill="rgb(179,179,179)" opacity="0.4"/>
<rect x="517.3" y="320.1" width="1.8" height="1.8" fill="rgb(179,179,179)" opacity="0.4"/>
<rect x="520.4" y="320.1" width="1.8" height="1.8" fill="rgb(120,120,120)" opacity="0.4"/>
<rect x="524.0" y="320.1" width="1.8" height="1.8" fill="rgb(123,123,123)" opacity="0.4"/>
<rect x="528.8" y="320.1" width="1.8" height="1.8" fill="rgb(120,120,120)" opacity="0.4"/>
<rect x="531.8" y="320.1" width="1.8" height="1.8" fill="rgb(128,128,128)" opacity="0.4"/>
<rect x="535.0" y="320.1" width="1.8" height="1.8" fill="rgb(164,164,164)" opacity="0.4"/>
<rect x="538.5" y="320.1" width="1.8" height="1.8" fill="rgb(138,138,138)" opacity="0.4"/>
<rect x="494.5" y="322.3" width="1.8" height="1.8" fill="rgb(153,153,153)" opacity="0.4"/>
<rect x="499.0" y="322.3" width="1.8" height="1.8" fill="rgb(160,160,160)" opacity="0.4"/>
<rect x="502.7" y="322.3" width="1.8" height="1.8" fill="rgb(152,152,152)" opacity="0.4"/>
<rect x="507.1" y="322.3" width="1.8" height="1.8" fill="rgb(173,173,173)" opacity="0.4"/>
<rect x="511.1" y="322.3" width="1.8" height="1.8" fill="rgb(119,119,119)" opacity="0.4"/>
<rect x="515.5" y="322.3" width="1.8" height="1.8" fill="rgb(115,115,115)" opacity="0.4"/>
<rect x="519.3" y="322.3" width="1.8" height="1.8" fill="rgb(154,154,154)" opacity="0.4"/>
<rect x="524.0" y="322.3" width="1.8" height="1.8" fill="rgb(158,158,158)" opacity="0.4"/>
<rect x="528.7" y="322.3" width="1.8" height="1.8" fill="rgb(169,169,169)" opacity="0.4"/>
<rect x="533.6" y="322.3" width="1.8" height="1.8" fill="rgb(113,113,113)" opacity="0.4"/>
<rect x="537.6" y="322.3" width="1.8" height="1.8" fill="rgb(111,111,111)" opacity="0.4"/>
<rect x="493.5" y="324.5" width="1.8" height="1.8" fill="rgb(163,163,163)" opacity="0.4"/>
<rect x="498.4" y="324.5" width="1.8" height="1.8" fill="rgb(141,141,141)" opacity="0.4"/>
<rect x="502.9" y="324.5" width="1.8" height="1.8" fill="rgb(158,158,158)" opacity="0.4"/>
<rect x="507.2" y="324.5" width="1.8" height="1.8" fill="rgb(151,151,151)" opacity="0.4"/>
<rect x="510.6" y="324.5" width="1.8" height="1.8" fill="rgb(164,164,164)" opacity="0.4"/>
<rect x="514.7" y="324.5" width="1.8" height="1.8" fill="rgb(145,145,145)" opacity="0.4"/>
<rect x="519.6" y="324.5" width="1.8" height="1.8" fill="rgb(117,117,117)" opacity="0.4"/>
<rect x="523.6" y="324.5" width="1.8" height="1.8" fill="rgb(124,124,124)" opacity="0.4"/>
<rect x="527.2" y="324.5" width="1.8" height="1.8" fill="rgb(129,129,129)" opacity="0.4"/>
<rect x="531.7" y="324.5" width="1.8" height="1.8" fill="rgb(132,132,132)" opacity="0.4"/>
<rect x="536.6" y="324.5" width="1.8" height="1.8" fill="rgb(168,168,168)" opacity="0.4"/>
<rect x="569.0" y="313.5" width="1.8" height="1.8" fill="rgb(114,114,114)" opacity="0.4"/>
<rect x="572.6" y="313.5" width="1.8" height="1.8" fill="rgb(135,135,135)" opacity="0.4"/>
<rect x="576.0" y="313.5" width="1.8" height="1.8" fill="rgb(137,137,137)" opacity="0.4"/>
<rect x="580.1" y="313.5" width="1.8" height="1.8" fill="rgb(186,186,186)" opacity="0.4"/>
<rect x="584.6" y="313.5" width="1.8" height="1.8" fill="rgb(186,186,186)" opacity="0.4"/>
<rect x="588.6" y="313.5" width="1.8" height="1.8" fill="rgb(166,166,166)" opacity="0.4"/>
<rect x="592.0" y="313.5" width="1.8" height="1.8" fill="rgb(145,145,145)" opacity="0.4"/>
<rect x="595.8" y="313.5" width="1.8" height="1.8" fill="rgb(149,149,149)" opacity="0.4"/>
<rect x="600.0" y="313.5" width="1.8" height="1.8" fill="rgb(180,180,180)" opacity="0.4"/>
<rect x="604.0" y="313.5" width="1.8" height="1.8" fill="rgb(143,143,143)" opacity="0.4"/>
<rect x="607.9" y="313.5" width="1.8" height="1.8" fill="rgb(161,161,161)" opacity="0.4"/>
<rect x="612.8" y="313.5" width="1.8" height="1.8" fill="rgb(153,153,153)" opacity="0.4"/>
<rect x="569.5" y="315.7" width="1.8" height="1.8" fill="rgb(121,121,121)" opacity="0.4"/>
<rect x="573.5" y="315.7" width="1.8" height="1.8" fill="rgb(138,138,138)" opacity="0.4"/>
<rect x="577.3" y="315.7" width="1.8" height="1.8" fill="rgb(137,137,137)" opacity="0.4"/>
<rect x="582.2" y="315.7" width="1.8" height="1.8" fill="rgb(159,159,159)" opacity="0.4"/>
<rect x="587.2" y="315.7" width="1.8" height="1.8" fill="rgb(176,176,176)" opacity="0.4"/>
<rect x="591.7" y="315.7" width="1.8" height="1.8" fill="rgb(117,117,117)" opacity="0.4"/>
<rect x="596.0" y="315.7" width="1.8" height="1.8" fill="rgb(140,140,140)" opacity="0.4"/>
<rect x="600.8" y="315.7" width="1.8" height="1.8" fill="rgb(170,170,170)" opacity="0.4"/>
<rect x="605.6" y="315.7" width="1.8" height="1.8" fill="rgb(167,167,167)" opacity="0.4"/>
<rect x="610.2" y="315.7" width="1.8" height="1.8" fill="rgb(163,163,163)" opacity="0.4"/>
<rect x="568.3" y="317.9" width="1.8" height="1.8" fill="rgb(130,130,130)" opacity="0.4"/>
<rect x="572.9" y="317.9" width="1.8" height="1.8" fill="rgb(128,128,128)" opacity="0.4"/>
<rect x="576.4" y="317.9" width="1.8" height="1.8" fill="rgb(176,176,176)" opacity="0.4"/>
<rect x="579.6" y="317.9" width="1.8" height="1.8" fill="rgb(189,189,189)" opacity="0.4"/>
<rect x="583.2" y="317.9" width="1.8" height="1.8" fill="rgb(178,178,178)" opacity="0.4"/>
<rect x="586.3" y="317.9" width="1.8" height="1.8" fill="rgb(183,183,183)" opacity="0.4"/>
<rect x="590.8" y="317.9" width="1.8" height="1.8" fill="rgb(110,110,110)" opacity="0.4"/>
<rect x="594.2" y="317.9" width="1.8" height="1.8" fill="rgb(129,129,129)" opacity="0.4"/>
<rect x="598.9" y="317.9" width="1.8" height="1.8" fill="rgb(120,120,120)" opacity="0.4"/>
<rect x="602.6" y="317.9" width="1.8" height="1.8" fill="rgb(188,188,188)" opacity="0.4"/>
<rect x="607.0" y="317.9" width="1.8" height="1.8" fill="rgb(122,122,122)" opacity="0.4"/>
<rect x="611.8" y="317.9" width="1.8" height="1.8" fill="rgb(169,169,169)" opacity="0.4"/>
<rect x="569.5" y="320.1" width="1.8" height="1.8" fill="rgb(179,179,179)" opacity="0.4"/>
<rect x="574.2" y="320.1" width="1.8" height="1.8" fill="rgb(148,148,148)" opacity="0.4"/>
<rect x="577.2" y="320.1" width="1.8" height="1.8" fill="rgb(134,134,134)" opacity="0.4"/>
<rect x="581.1" y="320.1" width="1.8" height="1.8" fill="rgb(121,121,121)" opacity="0.4"/>
<rect x="585.6" y="320.1" width="1.8" height="1.8" fill="rgb(166,166,166)" opacity="0.4"/>
<rect x="589.1" y="320.1" width="1.8" height="1.8" fill="rgb(179,179,179)" opacity="0.4"/>
<rect x="592.9" y="320.1" width="1.8" height="1.8" fill="rgb(173,173,173)" opacity="0.4"/>
<rect x="596.2" y="320.1" width="1.8" height="1.8" fill="rgb(149,149,149)" opacity="0.4"/>
<rect x="599.8" y="320.1" width="1.8" height="1.8" fill="rgb(161,161,161)" opacity="0.4"/>
<rect x="603.0" y="320.1" width="1.8" height="1.8" fill="rgb(149,149,149)" opacity="0.4"/>
<rect x="608.0" y="320.1" width="1.8" height="1.8" fill="rgb(118,118,118)" opacity="0.4"/>
<rect x="611.7" y="320.1" width="1.8" height="1.8" fill="rgb(127,127,127)" opacity="0.4"/>
<rect x="568.8" y="322.3" width="1.8" height="1.8" fill="rgb(169,169,169)" opacity="0.4"/>
<rect x="573.3" y="322.3" width="1.8" height="1.8" fill="rgb(125,125,125)" opacity="0.4"/>
<rect x="577.6" y="322.3" width="1.8" height="1.8" fill="rgb(111,111,111)" opacity="0.4"/>
<rect x="582.3" y="322.3" width="1.8" height="1.8" fill="rgb(170,170,170)" opacity="0.4"/>
<rect x="585.8" y="322.3" width="1.8" height="1.8" fill="rgb(182,182,182)" opacity="0.4"/>
<rect x="589.0" y="322.3" width="1.8" height="1.8" fill="rgb(111,111,111)" opacity="0.4"/>
<rect x="593.7" y="322.3" width="1.8" height="1.8" fill="rgb(136,136,136)" opacity="0.4"/>
<rect x="598.5" y="322.3" width="1.8" height="1.8" fill="rgb(129,129,129)" opacity="0.4"/>
<rect x="602.1" y="322.3" width="1.8" height="1.8" fill="rgb(158,158,158)" opacity="0.4"/>
<rect x="607.0" y="322.3" width="1.8" height="1.8" fill="rgb(148,148,148)" opacity="0.4"/>
<rect x="611.9" y="322.3" width="1.8" height="1.8" fill="rgb(160,160,160)" opacity="0.4"/>
<rect x="568.2" y="324.5" width="1.8" height="1.8" fill="rgb(134,134,134)" opacity="0.4"/>
<rect x="571.6" y="324.5" width="1.8" height="1.8" fill="rgb(124,124,124)" opacity="0.4"/>
<rect x="575.2" y="324.5" width="1.8" height="1.8" fill="rgb(145,145,145)" opacity="0.4"/>
<rect x="579.4" y="324.5" width="1.8" height="1.8" fill="rgb(152,152,152)" opacity="0.4"/>
<rect x="583.3" y="324.5" width="1.8" height="1.8" fill="rgb(158,158,158)" opacity="0.4"/>
<rect x="586.4" y="324.5" width="1.8" height="1.8" fill="rgb(128,128,128)" opacity="0.4"/>
<rect x="590.7" y="324.5" width="1.8" height="1.8" fill="rgb(126,126,126)" opacity="0.4"/>
<rect x="595.0" y="324.5" width="1.8" height="1.8" fill="rgb(132,132,132)" opacity="0.4"/>
<rect x="598.4" y="324.5" width="1.8" height="1.8" fill="rgb(161,161,161)" opacity="0.4"/>
<rect x="601.5" y="324.5" width="1.8" height="1.8" fill="rgb(169,169,169)" opacity="0.4"/>
<rect x="605.7" y="324.5" width="1.8" height="1.8" fill="rgb(121,121,121)" opacity="0.4"/>
<rect x="608.9" y="324.5" width="1.8" height="1.8" fill="rgb(114,114,114)" opacity="0.4"/>
<rect x="612.2" y="324.5" width="1.8" height="1.8" fill="rgb(125,125,125)" opacity="0.4"/>
<rect x="635.5" y="315.5" width="1.8" height="1.8" fill="rgb(153,153,153)" opacity="0.4"/>
<rect x="640.4" y="315.5" width="1.8" height="1.8" fill="rgb(164,164,164)" opacity="0.4"/>
<rect x="645.2" y="315.5" width="1.8" height="1.8" fill="rgb(127,127,127)" opacity="0.4"/>
<rect x="649.5" y="315.5" width="1.8" height="1.8" fill="rgb(128,128,128)" opacity="0.4"/>
<rect x="654.2" y="315.5" width="1.8" height="1.8" fill="rgb(159,159,159)" opacity="0.4"/>
<rect x="658.1" y="315.5" width="1.8" height="1.8" fill="rgb(162,162,162)" opacity="0.4"/>
<rect x="662.4" y="315.5" width="1.8" height="1.8" fill="rgb(161,161,161)" opacity="0.4"/>
<rect x="666.6" y="315.5" width="1.8" height="1.8" fill="rgb(150,150,150)" opacity="0.4"/>
<rect x="671.6" y="315.5" width="1.8" height="1.8" fill="rgb(141,141,141)" opacity="0.4"/>
<rect x="675.9" y="315.5" width="1.8" height="1.8" fill="rgb(187,187,187)" opacity="0.4"/>
<rect x="680.0" y="315.5" width="1.8" height="1.8" fill="rgb(143,143,143)" opacity="0.4"/>
<rect x="634.7" y="317.7" width="1.8" height="1.8" fill="rgb(166,166,166)" opacity="0.4"/>
<rect x="637.9" y="317.7" width="1.8" height="1.8" fill="rgb(158,158,158)" opacity="0.4"/>
<rect x="641.3" y="317.7" width="1.8" height="1.8" fill="rgb(152,152,152)" opacity="0.4"/>
<rect x="645.9" y="317.7" width="1.8" height="1.8" fill="rgb(123,123,123)" opacity="0.4"/>
<rect x="650.1" y="317.7" width="1.8" height="1.8" fill="rgb(130,130,130)" opacity="0.4"/>
<rect x="653.6" y="317.7" width="1.8" height="1.8" fill="rgb(178,178,178)" opacity="0.4"/>
<rect x="658.4" y="317.7" width="1.8" height="1.8" fill="rgb(180,180,180)" opacity="0.4"/>
<rect x="661.9" y="317.7" width="1.8" height="1.8" fill="rgb(188,188,188)" opacity="0.4"/>
<rect x="665.9" y="317.7" width="1.8" height="1.8" fill="rgb(128,128,128)" opacity="0.4"/>
<rect x="670.0" y="317.7" width="1.8" height="1.8" fill="rgb(135,135,135)" opacity="0.4"/>
<rect x="675.0" y="317.7" width="1.8" height="1.8" fill="rgb(176,176,176)" opacity="0.4"/>
<rect x="680.0" y="317.7" width="1.8" height="1.8" fill="rgb(135,135,135)" opacity="0.4"/>
<rect x="634.1" y="319.9" width="1.8" height="1.8" fill="rgb(135,135,135)" opacity="0.4"/>
<rect x="638.6" y="319.9" width="1.8" height="1.8" fill="rgb(127,127,127)" opacity="0.4"/>
<rect x="642.1" y="319.9" width="1.8" height="1.8" fill="rgb(183,183,183)" opacity="0.4"/>
<rect x="645.9" y="319.9" width="1.8" height="1.8" fill="rgb(152,152,152)" opacity="0.4"/>
<rect x="649.6" y="319.9" width="1.8" height="1.8" fill="rgb(156,156,156)" opacity="0.4"/>
<rect x="653.1" y="319.9" width="1.8" height="1.8" fill="rgb(125,125,125)" opacity="0.4"/>
<rect x="657.0" y="319.9" width="1.8" height="1.8" fill="rgb(127,127,127)" opacity="0.4"/>
<rect x="660.5" y="319.9" width="1.8" height="1.8" fill="rgb(182,182,182)" opacity="0.4"/>
<rect x="664.6" y="319.9" width="1.8" height="1.8" fill="rgb(181,181,181)" opacity="0.4"/>
<rect x="667.7" y="319.9" width="1.8" height="1.8" fill="rgb(143,143,143)" opacity="0.4"/>
<rect x="671.1" y="319.9" width="1.8" height="1.8" fill="rgb(152,152,152)" opacity="0.4"/>
<rect x="675.3" y="319.9" width="1.8" height="1.8" fill="rgb(125,125,125)" opacity="0.4"/>
<rect x="680.1" y="319.9" width="1.8" height="1.8" fill="rgb(110,110,110)" opacity="0.4"/>
<rect x="635.8" y="322.1" width="1.8" height="1.8" fill="rgb(140,140,140)" opacity="0.4"/>
<rect x="640.3" y="322.1" width="1.8" height="1.8" fill="rgb(156,156,156)" opacity="0.4"/>
<rect x="645.0" y="322.1" width="1.8" height="1.8" fill="rgb(133,133,133)" opacity="0.4"/>
<rect x="649.2" y="322.1" width="1.8" height="1.8" fill="rgb(119,119,119)" opacity="0.4"/>
<rect x="653.1" y="322.1" width="1.8" height="1.8" fill="rgb(161,161,161)" opacity="0.4"/>
<rect x="656.4" y="322.1" width="1.8" height="1.8" fill="rgb(127,127,127)" opacity="0.4"/>
<rect x="660.1" y="322.1" width="1.8" height="1.8" fill="rgb(158,158,158)" opacity="0.4"/>
<rect x="664.3" y="322.1" width="1.8" height="1.8" fill="rgb(112,112,112)" opacity="0.4"/>
<rect x="667.6" y="322.1" width="1.8" height="1.8" fill="rgb(162,162,162)" opacity="0.4"/>
<rect x="671.5" y="322.1" width="1.8" height="1.8" fill="rgb(128,128,128)" opacity="0.4"/>
<rect x="675.6" y="322.1" width="1.8" height="1.8" fill="rgb(125,125,125)" opacity="0.4"/>
<rect x="679.7" y="322.1" width="1.8" height="1.8" fill="rgb(132,132,132)" opacity="0.4"/>
<rect x="634.3" y="324.3" width="1.8" height="1.8" fill="rgb(141,141,141)" opacity="0.4"/>
<rect x="638.4" y="324.3" width="1.8" height="1.8" fill="rgb(152,152,152)" opacity="0.4"/>
<rect x="641.5" y="324.3" width="1.8" height="1.8" fill="rgb(114,114,114)" opacity="0.4"/>
<rect x="645.9" y="324.3" width="1.8" height="1.8" fill="rgb(128,128,128)" opacity="0.4"/>
<rect x="649.8" y="324.3" width="1.8" height="1.8" fill="rgb(173,173,173)" opacity="0.4"/>
<rect x="654.0" y="324.3" width="1.8" height="1.8" fill="rgb(170,170,170)" opacity="0.4"/>
<rect x="657.6" y="324.3" width="1.8" height="1.8" fill="rgb(189,189,189)" opacity="0.4"/>
<rect x="662.5" y="324.3" width="1.8" height="1.8" fill="rgb(182,182,182)" opacity="0.4"/>
<rect x="667.0" y="324.3" width="1.8" height="1.8" fill="rgb(146,146,146)" opacity="0.4"/>
<rect x="671.0" y="324.3" width="1.8" height="1.8" fill="rgb(169,169,169)" opacity="0.4"/>
<rect x="675.6" y="324.3" width="1.8" height="1.8" fill="rgb(162,162,162)" opacity="0.4"/>
<rect x="680.3" y="324.3" width="1.8" height="1.8" fill="rgb(125,125,125)" opacity="0.4"/>
<rect x="635.8" y="326.5" width="1.8" height="1.8" fill="rgb(177,177,177)" opacity="0.4"/>
<rect x="639.5" y="326.5" width="1.8" height="1.8" fill="rgb(176,176,176)" opacity="0.4"/>
<rect x="643.3" y="326.5" width="1.8" height="1.8" fill="rgb(113,113,113)" opacity="0.4"/>
<rect x="647.0" y="326.5" width="1.8" height="1.8" fill="rgb(116,116,116)" opacity="0.4"/>
<rect x="650.6" y="326.5" width="1.8" height="1.8" fill="rgb(188,188,188)" opacity="0.4"/>
<rect x="655.4" y="326.5" width="1.8" height="1.8" fill="rgb(158,158,158)" opacity="0.4"/>
<rect x="659.6" y="326.5" width="1.8" height="1.8" fill="rgb(149,149,149)" opacity="0.4"/>
<rect x="664.3" y="326.5" width="1.8" height="1.8" fill="rgb(118,118,118)" opacity="0.4"/>
<rect x="667.8" y="326.5" width="1.8" height="1.8" fill="rgb(167,167,167)" opacity="0.4"/>
<rect x="671.3" y="326.5" width="1.8" height="1.8" fill="rgb(160,160,160)" opacity="0.4"/>
<rect x="676.2" y="326.5" width="1.8" height="1.8" fill="rgb(170,170,170)" opacity="0.4"/>
<rect x="680.6" y="326.5" width="1.8" height="1.8" fill="rgb(177,177,177)" opacity="0.4"/>
<rect x="709.4" y="316.0" width="1.8" height="1.8" fill="rgb(160,160,160)" opacity="0.4"/>
<rect x="714.3" y="316.0" width="1.8" height="1.8" fill="rgb(118,118,118)" opacity="0.4"/>
<rect x="719.3" y="316.0" width="1.8" height="1.8" fill="rgb(157,157,157)" opacity="0.4"/>
<rect x="724.0" y="316.0" width="1.8" height="1.8" fill="rgb(163,163,163)" opacity="0.4"/>
<rect x="728.1" y="316.0" width="1.8" height="1.8" fill="rgb(131,131,131)" opacity="0.4"/>
<rect x="731.6" y="316.0" width="1.8" height="1.8" fill="rgb(163,163,163)" opacity="0.4"/>
<rect x="735.7" y="316.0" width="1.8" height="1.8" fill="rgb(119,119,119)" opacity="0.4"/>
<rect x="738.9" y="316.0" width="1.8" height="1.8" fill="rgb(126,126,126)" opacity="0.4"/>
<rect x="742.2" y="316.0" width="1.8" height="1.8" fill="rgb(178,178,178)" opacity="0.4"/>
<rect x="746.3" y="316.0" width="1.8" height="1.8" fill="rgb(168,168,168)" opacity="0.4"/>
<rect x="749.3" y="316.0" width="1.8" height="1.8" fill="rgb(141,141,141)" opacity="0.4"/>
<rect x="708.3" y="318.2" width="1.8" height="1.8" fill="rgb(132,132,132)" opacity="0.4"/>
<rect x="711.5" y="318.2" width="1.8" height="1.8" fill="rgb(167,167,167)" opacity="0.4"/>
<rect x="716.1" y="318.2" width="1.8" height="1.8" fill="rgb(160,160,160)" opacity="0.4"/>
<rect x="719.4" y="318.2" width="1.8" height="1.8" fill="rgb(184,184,184)" opacity="0.4"/>
<rect x="722.8" y="318.2" width="1.8" height="1.8" fill="rgb(149,149,149)" opacity="0.4"/>
<rect x="725.9" y="318.2" width="1.8" height="1.8" fill="rgb(150,150,150)" opacity="0.4"/>
<rect x="729.5" y="318.2" width="1.8" height="1.8" fill="rgb(173,173,173)" opacity="0.4"/>
<rect x="732.8" y="318.2" width="1.8" height="1.8" fill="rgb(170,170,170)" opacity="0.4"/>
<rect x="737.6" y="318.2" width="1.8" height="1.8" fill="rgb(135,135,135)" opacity="0.4"/>
<rect x="741.2" y="318.2" width="1.8" height="1.8" fill="rgb(117,117,117)" opacity="0.4"/>
<rect x="744.6" y="318.2" width="1.8" height="1.8" fill="rgb(155,155,155)" opacity="0.4"/>
<rect x="749.4" y="318.2" width="1.8" height="1.8" fill="rgb(112,112,112)" opacity="0.4"/>
<rect x="710.1" y="320.4" width="1.8" height="1.8" fill="rgb(181,181,181)" opacity="0.4"/>
<rect x="713.5" y="320.4" width="1.8" height="1.8" fill="rgb(190,190,190)" opacity="0.4"/>
<rect x="716.9" y="320.4" width="1.8" height="1.8" fill="rgb(116,116,116)" opacity="0.4"/>
<rect x="721.2" y="320.4" width="1.8" height="1.8" fill="rgb(149,149,149)" opacity="0.4"/>
<rect x="725.7" y="320.4" width="1.8" height="1.8" fill="rgb(150,150,150)" opacity="0.4"/>
<rect x="730.6" y="320.4" width="1.8" height="1.8" fill="rgb(145,145,145)" opacity="0.4"/>
<rect x="735.3" y="320.4" width="1.8" height="1.8" fill="rgb(127,127,127)" opacity="0.4"/>
<rect x="739.0" y="320.4" width="1.8" height="1.8" fill="rgb(166,166,166)" opacity="0.4"/>
<rect x="742.8" y="320.4" width="1.8" height="1.8" fill="rgb(131,131,131)" opacity="0.4"/>
<rect x="746.3" y="320.4" width="1.8" height="1.8" fill="rgb(149,149,149)" opacity="0.4"/>
<rect x="749.5" y="320.4" width="1.8" height="1.8" fill="rgb(135,135,135)" opacity="0.4"/>
<rect x="709.7" y="322.6" width="1.8" height="1.8" fill="rgb(174,174,174)" opacity="0.4"/>
<rect x="714.1" y="322.6" width="1.8" height="1.8" fill="rgb(144,144,144)" opacity="0.4"/>
<rect x="717.8" y="322.6" width="1.8" height="1.8" fill="rgb(177,177,177)" opacity="0.4"/>
<rect x="722.6" y="322.6" width="1.8" height="1.8" fill="rgb(185,185,185)" opacity="0.4"/>
<rect x="726.6" y="322.6" width="1.8" height="1.8" fill="rgb(148,148,148)" opacity="0.4"/>
<rect x="731.4" y="322.6" width="1.8" height="1.8" fill="rgb(133,133,133)" opacity="0.4"/>
<rect x="735.7" y="322.6" width="1.8" height="1.8" fill="rgb(145,145,145)" opacity="0.4"/>
<rect x="739.0" y="322.6" width="1.8" height="1.8" fill="rgb(121,121,121)" opacity="0.4"/>
<rect x="742.9" y="322.6" width="1.8" height="1.8" fill="rgb(119,119,119)" opacity="0.4"/>
<rect x="746.8" y="322.6" width="1.8" height="1.8" fill="rgb(177,177,177)" opacity="0.4"/>
<rect x="750.0" y="322.6" width="1.8" height="1.8" fill="rgb(115,115,115)" opacity="0.4"/>
<rect x="709.5" y="324.8" width="1.8" height="1.8" fill="rgb(178,178,178)" opacity="0.4"/>
<rect x="713.0" y="324.8" width="1.8" height="1.8" fill="rgb(182,182,182)" opacity="0.4"/>
<rect x="716.1" y="324.8" width="1.8" height="1.8" fill="rgb(146,146,146)" opacity="0.4"/>
<rect x="721.1" y="324.8" width="1.8" height="1.8" fill="rgb(134,134,134)" opacity="0.4"/>
<rect x="724.6" y="324.8" width="1.8" height="1.8" fill="rgb(145,145,145)" opacity="0.4"/>
<rect x="729.1" y="324.8" width="1.8" height="1.8" fill="rgb(113,113,113)" opacity="0.4"/>
<rect x="732.5" y="324.8" width="1.8" height="1.8" fill="rgb(129,129,129)" opacity="0.4"/>
<rect x="737.4" y="324.8" width="1.8" height="1.8" fill="rgb(114,114,114)" opacity="0.4"/>
<rect x="741.7" y="324.8" width="1.8" height="1.8" fill="rgb(184,184,184)" opacity="0.4"/>
<rect x="745.4" y="324.8" width="1.8" height="1.8" fill="rgb(173,173,173)" opacity="0.4"/>
<rect x="748.6" y="324.8" width="1.8" height="1.8" fill="rgb(118,118,118)" opacity="0.4"/>
<rect x="709.6" y="327.0" width="1.8" height="1.8" fill="rgb(156,156,156)" opacity="0.4"/>
<rect x="713.2" y="327.0" width="1.8" height="1.8" fill="rgb(171,171,171)" opacity="0.4"/>
<rect x="717.8" y="327.0" width="1.8" height="1.8" fill="rgb(176,176,176)" opacity="0.4"/>
<rect x="721.4" y="327.0" width="1.8" height="1.8" fill="rgb(176,176,176)" opacity="0.4"/>
<rect x="725.9" y="327.0" width="1.8" height="1.8" fill="rgb(178,178,178)" opacity="0.4"/>
<rect x="729.2" y="327.0" width="1.8" height="1.8" fill="rgb(131,131,131)" opacity="0.4"/>
<rect x="732.4" y="327.0" width="1.8" height="1.8" fill="rgb(165,165,165)" opacity="0.4"/>
<rect x="735.9" y="327.0" width="1.8" height="1.8" fill="rgb(166,166,166)" opacity="0.4"/>
<rect x="740.0" y="327.0" width="1.8" height="1.8" fill="rgb(142,142,142)" opacity="0.4"/>
<rect x="744.6" y="327.0" width="1.8" height="1.8" fill="rgb(140,140,140)" opacity="0.4"/>
<rect x="748.1" y="327.0" width="1.8" height="1.8" fill="rgb(179,179,179)" opacity="0.4"/>
<rect x="751.5" y="327.0" width="1.8" height="1.8" fill="rgb(184,184,184)" opacity="0.4"/>
</g>
<g fill="url(#dash)">
<rect x="155.1" y="299.9" width="43" height="1.2"/>
<rect x="155.1" y="303.5" width="43" height="1.2"/>
<rect x="155.1" y="307.1" width="43" height="1.2"/>
<rect x="219" y="298.4" width="44" height="1.2"/>
<rect x="219" y="302" width="44" height="1.2"/>
<rect x="219" y="305.6" width="44" height="1.2"/>
<rect x="288.4" y="299" width="46" height="1.2"/>
<rect x="288.4" y="302.6" width="46" height="1.2"/>
<rect x="288.4" y="306.2" width="46" height="1.2"/>
<rect x="360" y="298.5" width="46" height="1.2"/>
<rect x="360" y="302.1" width="46" height="1.2"/>
<rect x="360" y="305.7" width="46" height="1.2"/>
<rect x="427.5" y="300" width="45" height="1.2"/>
<rect x="427.5" y="303.6" width="45" height="1.2"/>
<rect x="427.5" y="307.2" width="45" height="1.2"/>
<rect x="493.7" y="300.2" width="46.6" height="1.2"/>
<rect x="493.7" y="303.8" width="46.6" height="1.2"/>
<rect x="493.7" y="307.4" width="46.6" height="1.2"/>
<rect x="569" y="300.2" width="46" height="1.2"/>
<rect x="569" y="303.8" width="46" height="1.2"/>
<rect x="569" y="307.4" width="46" height="1.2"/>
<rect x="635" y="302.2" width="47.4" height="1.2"/>
<rect x="635" y="305.8" width="47.4" height="1.2"/>
<rect x="635" y="309.4" width="47.4" height="1.2"/>
<rect x="709.3" y="302.8" width="44" height="1.2"/>
<rect x="709.3" y="306.4" width="44" height="1.2"/>
<rect x="709.3" y="310" width="44" height="1.2"/>
</g>
<rect x="126.25" y="286.25" width="648.5" height="72.5" fill="none" stroke="#000" stroke-width="2.5"/>
<rect x="128.95" y="288.25" width="78.4" height="59.9" fill="none" stroke="#ee0000" stroke-width="3.3"/>
<rect x="274.4" y="287.9" width="78.9" height="60.4" fill="none" stroke="#ee0000" stroke-width="3.2"/>
<rect x="349.75" y="281.55" width="64.7" height="59.7" fill="none" stroke="#8cc63f" stroke-width="3.1"/>
<rect x="209.05" y="288.55" width="65.7" height="58.5" fill="none" stroke="#1ba1dc" stroke-width="3.1"/>
<rect x="415.45" y="289.35" width="64" height="59.8" fill="none" stroke="#1ba1dc" stroke-width="3.1"/>
<rect x="484.75" y="288.55" width="204" height="59.9" fill="none" stroke="#8cc63f" stroke-width="3.1"/>
<rect x="700.55" y="296.55" width="65.2" height="59.9" fill="none" stroke="#1ba1dc" stroke-width="3.1"/>
<line x1="69" y1="314.5" x2="102" y2="314.5" stroke="#000" stroke-width="4" stroke-linecap="round"/>
<polygon points="100.5,307.8 116.5,314.9 100.5,322" fill="#000"/>
</svg>
<div class="t" style="left:46px;top:106px;font-size:25px;font-weight:bold;">43</div>
<div class="t" style="left:30px;top:302px;font-size:19px;font-weight:bold;">43</div>
<div class="t" style="left:353px;top:219px;font-size:19.5px;font-weight:bold;">Immunoblot: anti-Actin</div>
<div class="t fg" style="left:632px;top:239px;font-size:22.5px;letter-spacing:0.4px;color:#111;">Figure 4B</div>
<div class="t" style="left:325px;top:387px;font-size:21.5px;font-weight:bold;transform:scaleX(1.055);transform-origin:0 0;">Immunoblot: Anti-Actin</div>
<div class="t fg" style="left:662px;top:422px;font-size:22.5px;letter-spacing:0.3px;color:#111;">Figure 5A</div>
</body></html>
